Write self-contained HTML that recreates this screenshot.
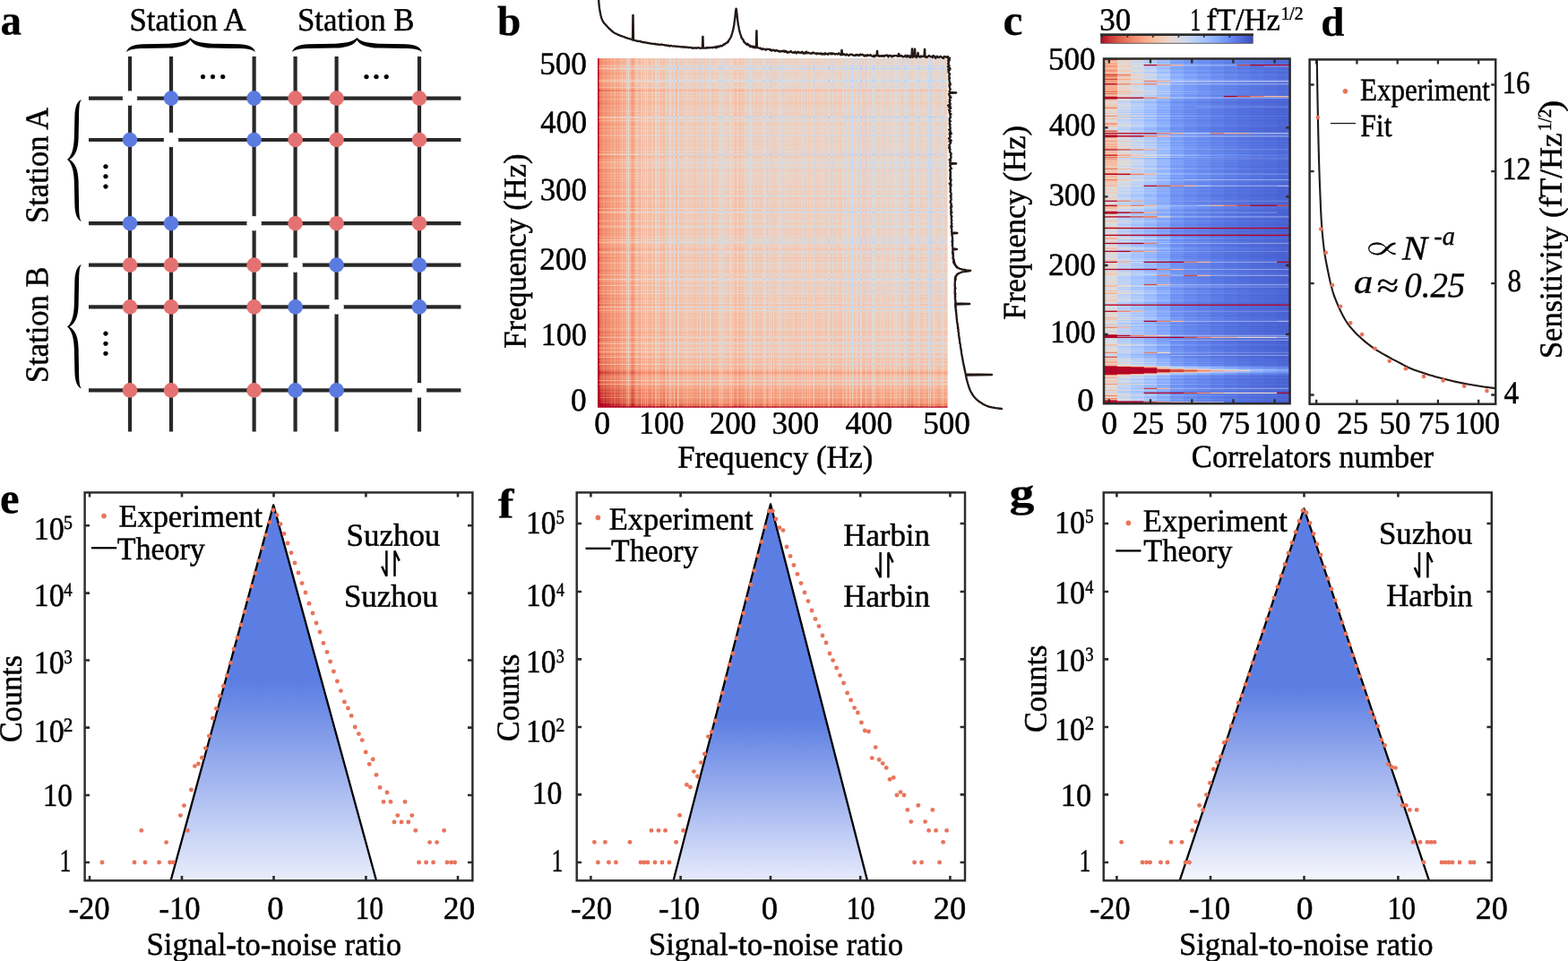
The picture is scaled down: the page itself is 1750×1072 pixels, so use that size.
<!DOCTYPE html>
<html lang="en"><head><meta charset="utf-8"><title>Figure</title>
<style>html,body{margin:0;padding:0;background:#fff}body{width:1750px;height:1072px;overflow:hidden}svg{display:block}text{font-family:"Liberation Serif", "DejaVu Serif", serif;fill:#000;white-space:pre;stroke:#000;stroke-width:.5px;stroke-linejoin:round}text[font-weight=bold]{stroke-width:.25px}text[font-style=italic]{stroke-width:.35px}</style></head><body>
<svg width="1750" height="1072" viewBox="0 0 1750 1072">
<defs>
<filter id="cmb" x="0" y="0" width="1" height="1" color-interpolation-filters="sRGB"><feColorMatrix type="matrix" values=".5 .5 0 0 0 .5 .5 0 0 0 .5 .5 0 0 0 0 0 0 1 0"/><feComponentTransfer><feFuncR type="table" tableValues="0.619 0.662 0.698 0.734 0.773 0.805 0.835 0.863 0.896 0.919 0.938 0.955 0.964 0.969 0.968 0.964 0.955 0.939 0.921 0.900 0.870 0.839 0.806 0.764 0.723 0.706 0.706 0.706 0.706 0.706 0.706 0.706 0.706 0.706 0.706 0.706 0.706 0.706 0.706 0.706 0.706 0.706 0.706 0.706 0.706 0.706 0.706 0.706 0.706 0.706 0.706 0.706 0.706 0.706 0.706 0.706 0.706 0.706 0.706 0.706 0.706 0.706 0.706 0.706"/><feFuncG type="table" tableValues="0.744 0.775 0.799 0.820 0.839 0.852 0.861 0.865 0.850 0.831 0.809 0.779 0.749 0.716 0.674 0.634 0.592 0.540 0.491 0.441 0.379 0.322 0.260 0.179 0.069 0.016 0.016 0.016 0.016 0.016 0.016 0.016 0.016 0.016 0.016 0.016 0.016 0.016 0.016 0.016 0.016 0.016 0.016 0.016 0.016 0.016 0.016 0.016 0.016 0.016 0.016 0.016 0.016 0.016 0.016 0.016 0.016 0.016 0.016 0.016 0.016 0.016 0.016 0.016"/><feFuncB type="table" tableValues="0.999 0.994 0.985 0.971 0.949 0.926 0.899 0.868 0.823 0.783 0.741 0.693 0.649 0.606 0.557 0.514 0.471 0.424 0.383 0.344 0.301 0.265 0.231 0.193 0.163 0.150 0.150 0.150 0.150 0.150 0.150 0.150 0.150 0.150 0.150 0.150 0.150 0.150 0.150 0.150 0.150 0.150 0.150 0.150 0.150 0.150 0.150 0.150 0.150 0.150 0.150 0.150 0.150 0.150 0.150 0.150 0.150 0.150 0.150 0.150 0.150 0.150 0.150 0.150"/></feComponentTransfer></filter>
<clipPath id="cpb"><rect x="667" y="65" width="390.6" height="389.7"/></clipPath>
<linearGradient id="cgx" x1="0" y1="0" x2="1" y2="0">
<stop offset="0.0000" stop-color="#d40000"/><stop offset="0.0714" stop-color="#d40000"/>
<stop offset="0.0714" stop-color="#bf0000"/><stop offset="0.1429" stop-color="#bf0000"/>
<stop offset="0.1429" stop-color="#b10000"/><stop offset="0.2143" stop-color="#b10000"/>
<stop offset="0.2143" stop-color="#a30000"/><stop offset="0.2857" stop-color="#a30000"/>
<stop offset="0.2857" stop-color="#900000"/><stop offset="0.3571" stop-color="#900000"/>
<stop offset="0.3571" stop-color="#740000"/><stop offset="0.4286" stop-color="#740000"/>
<stop offset="0.4286" stop-color="#660000"/><stop offset="0.5000" stop-color="#660000"/>
<stop offset="0.5000" stop-color="#5b0000"/><stop offset="0.5714" stop-color="#5b0000"/>
<stop offset="0.5714" stop-color="#4e0000"/><stop offset="0.6429" stop-color="#4e0000"/>
<stop offset="0.6429" stop-color="#420000"/><stop offset="0.7143" stop-color="#420000"/>
<stop offset="0.7143" stop-color="#370000"/><stop offset="0.7857" stop-color="#370000"/>
<stop offset="0.7857" stop-color="#2c0000"/><stop offset="0.8571" stop-color="#2c0000"/>
<stop offset="0.8571" stop-color="#220000"/><stop offset="0.9286" stop-color="#220000"/>
<stop offset="0.9286" stop-color="#170000"/><stop offset="1.0000" stop-color="#170000"/>
</linearGradient>
<linearGradient id="cgy" x1="0" y1="0" x2="0" y2="1">
<stop offset="0.0000" stop-color="#007c00"/><stop offset="0.0026" stop-color="#007c00"/>
<stop offset="0.0026" stop-color="#006200"/><stop offset="0.0052" stop-color="#006200"/>
<stop offset="0.0052" stop-color="#006000"/><stop offset="0.0078" stop-color="#006000"/>
<stop offset="0.0078" stop-color="#005200"/><stop offset="0.0104" stop-color="#005200"/>
<stop offset="0.0104" stop-color="#006300"/><stop offset="0.0130" stop-color="#006300"/>
<stop offset="0.0130" stop-color="#006100"/><stop offset="0.0156" stop-color="#006100"/>
<stop offset="0.0156" stop-color="#006000"/><stop offset="0.0182" stop-color="#006000"/>
<stop offset="0.0182" stop-color="#006600"/><stop offset="0.0208" stop-color="#006600"/>
<stop offset="0.0208" stop-color="#006700"/><stop offset="0.0234" stop-color="#006700"/>
<stop offset="0.0234" stop-color="#005c00"/><stop offset="0.0260" stop-color="#005c00"/>
<stop offset="0.0260" stop-color="#005d00"/><stop offset="0.0286" stop-color="#005d00"/>
<stop offset="0.0286" stop-color="#006000"/><stop offset="0.0312" stop-color="#006000"/>
<stop offset="0.0312" stop-color="#006900"/><stop offset="0.0338" stop-color="#006900"/>
<stop offset="0.0338" stop-color="#006800"/><stop offset="0.0364" stop-color="#006800"/>
<stop offset="0.0364" stop-color="#005b00"/><stop offset="0.0390" stop-color="#005b00"/>
<stop offset="0.0390" stop-color="#005c00"/><stop offset="0.0416" stop-color="#005c00"/>
<stop offset="0.0416" stop-color="#006a00"/><stop offset="0.0442" stop-color="#006a00"/>
<stop offset="0.0442" stop-color="#007700"/><stop offset="0.0468" stop-color="#007700"/>
<stop offset="0.0468" stop-color="#006300"/><stop offset="0.0494" stop-color="#006300"/>
<stop offset="0.0494" stop-color="#005e00"/><stop offset="0.0519" stop-color="#005e00"/>
<stop offset="0.0519" stop-color="#006f00"/><stop offset="0.0545" stop-color="#006f00"/>
<stop offset="0.0545" stop-color="#006100"/><stop offset="0.0571" stop-color="#006100"/>
<stop offset="0.0571" stop-color="#006900"/><stop offset="0.0597" stop-color="#006900"/>
<stop offset="0.0597" stop-color="#007700"/><stop offset="0.0623" stop-color="#007700"/>
<stop offset="0.0623" stop-color="#006800"/><stop offset="0.0649" stop-color="#006800"/>
<stop offset="0.0649" stop-color="#006300"/><stop offset="0.0675" stop-color="#006300"/>
<stop offset="0.0675" stop-color="#006900"/><stop offset="0.0701" stop-color="#006900"/>
<stop offset="0.0701" stop-color="#005e00"/><stop offset="0.0727" stop-color="#005e00"/>
<stop offset="0.0727" stop-color="#006100"/><stop offset="0.0753" stop-color="#006100"/>
<stop offset="0.0753" stop-color="#005f00"/><stop offset="0.0779" stop-color="#005f00"/>
<stop offset="0.0779" stop-color="#006100"/><stop offset="0.0805" stop-color="#006100"/>
<stop offset="0.0805" stop-color="#005f00"/><stop offset="0.0831" stop-color="#005f00"/>
<stop offset="0.0831" stop-color="#006100"/><stop offset="0.0857" stop-color="#006100"/>
<stop offset="0.0857" stop-color="#006000"/><stop offset="0.0883" stop-color="#006000"/>
<stop offset="0.0883" stop-color="#006300"/><stop offset="0.0909" stop-color="#006300"/>
<stop offset="0.0909" stop-color="#006200"/><stop offset="0.0935" stop-color="#006200"/>
<stop offset="0.0935" stop-color="#006400"/><stop offset="0.0961" stop-color="#006400"/>
<stop offset="0.0961" stop-color="#007300"/><stop offset="0.0987" stop-color="#007300"/>
<stop offset="0.0987" stop-color="#005800"/><stop offset="0.1013" stop-color="#005800"/>
<stop offset="0.1013" stop-color="#007100"/><stop offset="0.1039" stop-color="#007100"/>
<stop offset="0.1039" stop-color="#006000"/><stop offset="0.1065" stop-color="#006000"/>
<stop offset="0.1065" stop-color="#005a00"/><stop offset="0.1091" stop-color="#005a00"/>
<stop offset="0.1091" stop-color="#006100"/><stop offset="0.1117" stop-color="#006100"/>
<stop offset="0.1117" stop-color="#005f00"/><stop offset="0.1143" stop-color="#005f00"/>
<stop offset="0.1143" stop-color="#006700"/><stop offset="0.1169" stop-color="#006700"/>
<stop offset="0.1169" stop-color="#005200"/><stop offset="0.1195" stop-color="#005200"/>
<stop offset="0.1195" stop-color="#005700"/><stop offset="0.1221" stop-color="#005700"/>
<stop offset="0.1221" stop-color="#005400"/><stop offset="0.1247" stop-color="#005400"/>
<stop offset="0.1247" stop-color="#004500"/><stop offset="0.1299" stop-color="#004500"/>
<stop offset="0.1299" stop-color="#004f00"/><stop offset="0.1325" stop-color="#004f00"/>
<stop offset="0.1325" stop-color="#005000"/><stop offset="0.1351" stop-color="#005000"/>
<stop offset="0.1351" stop-color="#005600"/><stop offset="0.1377" stop-color="#005600"/>
<stop offset="0.1377" stop-color="#004f00"/><stop offset="0.1403" stop-color="#004f00"/>
<stop offset="0.1403" stop-color="#004d00"/><stop offset="0.1429" stop-color="#004d00"/>
<stop offset="0.1429" stop-color="#004b00"/><stop offset="0.1455" stop-color="#004b00"/>
<stop offset="0.1455" stop-color="#005800"/><stop offset="0.1481" stop-color="#005800"/>
<stop offset="0.1481" stop-color="#004500"/><stop offset="0.1506" stop-color="#004500"/>
<stop offset="0.1506" stop-color="#004900"/><stop offset="0.1532" stop-color="#004900"/>
<stop offset="0.1532" stop-color="#004d00"/><stop offset="0.1558" stop-color="#004d00"/>
<stop offset="0.1558" stop-color="#004000"/><stop offset="0.1584" stop-color="#004000"/>
<stop offset="0.1584" stop-color="#005a00"/><stop offset="0.1610" stop-color="#005a00"/>
<stop offset="0.1610" stop-color="#004500"/><stop offset="0.1636" stop-color="#004500"/>
<stop offset="0.1636" stop-color="#004900"/><stop offset="0.1662" stop-color="#004900"/>
<stop offset="0.1662" stop-color="#006b00"/><stop offset="0.1688" stop-color="#006b00"/>
<stop offset="0.1688" stop-color="#004500"/><stop offset="0.1714" stop-color="#004500"/>
<stop offset="0.1714" stop-color="#004700"/><stop offset="0.1740" stop-color="#004700"/>
<stop offset="0.1740" stop-color="#005e00"/><stop offset="0.1766" stop-color="#005e00"/>
<stop offset="0.1766" stop-color="#004300"/><stop offset="0.1792" stop-color="#004300"/>
<stop offset="0.1792" stop-color="#004700"/><stop offset="0.1818" stop-color="#004700"/>
<stop offset="0.1818" stop-color="#004e00"/><stop offset="0.1870" stop-color="#004e00"/>
<stop offset="0.1870" stop-color="#004f00"/><stop offset="0.1896" stop-color="#004f00"/>
<stop offset="0.1896" stop-color="#004d00"/><stop offset="0.1922" stop-color="#004d00"/>
<stop offset="0.1922" stop-color="#005a00"/><stop offset="0.1948" stop-color="#005a00"/>
<stop offset="0.1948" stop-color="#005500"/><stop offset="0.1974" stop-color="#005500"/>
<stop offset="0.1974" stop-color="#004f00"/><stop offset="0.2000" stop-color="#004f00"/>
<stop offset="0.2000" stop-color="#004600"/><stop offset="0.2026" stop-color="#004600"/>
<stop offset="0.2026" stop-color="#004500"/><stop offset="0.2052" stop-color="#004500"/>
<stop offset="0.2052" stop-color="#003e00"/><stop offset="0.2078" stop-color="#003e00"/>
<stop offset="0.2078" stop-color="#005300"/><stop offset="0.2104" stop-color="#005300"/>
<stop offset="0.2104" stop-color="#004300"/><stop offset="0.2130" stop-color="#004300"/>
<stop offset="0.2130" stop-color="#005900"/><stop offset="0.2156" stop-color="#005900"/>
<stop offset="0.2156" stop-color="#006d00"/><stop offset="0.2182" stop-color="#006d00"/>
<stop offset="0.2182" stop-color="#004e00"/><stop offset="0.2208" stop-color="#004e00"/>
<stop offset="0.2208" stop-color="#005300"/><stop offset="0.2234" stop-color="#005300"/>
<stop offset="0.2234" stop-color="#005600"/><stop offset="0.2260" stop-color="#005600"/>
<stop offset="0.2260" stop-color="#006100"/><stop offset="0.2286" stop-color="#006100"/>
<stop offset="0.2286" stop-color="#005400"/><stop offset="0.2312" stop-color="#005400"/>
<stop offset="0.2312" stop-color="#005800"/><stop offset="0.2338" stop-color="#005800"/>
<stop offset="0.2338" stop-color="#005600"/><stop offset="0.2364" stop-color="#005600"/>
<stop offset="0.2364" stop-color="#005700"/><stop offset="0.2390" stop-color="#005700"/>
<stop offset="0.2390" stop-color="#006800"/><stop offset="0.2416" stop-color="#006800"/>
<stop offset="0.2416" stop-color="#005300"/><stop offset="0.2442" stop-color="#005300"/>
<stop offset="0.2442" stop-color="#005900"/><stop offset="0.2468" stop-color="#005900"/>
<stop offset="0.2468" stop-color="#005b00"/><stop offset="0.2494" stop-color="#005b00"/>
<stop offset="0.2494" stop-color="#006100"/><stop offset="0.2519" stop-color="#006100"/>
<stop offset="0.2519" stop-color="#005100"/><stop offset="0.2545" stop-color="#005100"/>
<stop offset="0.2545" stop-color="#006500"/><stop offset="0.2571" stop-color="#006500"/>
<stop offset="0.2571" stop-color="#005c00"/><stop offset="0.2597" stop-color="#005c00"/>
<stop offset="0.2597" stop-color="#006100"/><stop offset="0.2623" stop-color="#006100"/>
<stop offset="0.2623" stop-color="#005900"/><stop offset="0.2649" stop-color="#005900"/>
<stop offset="0.2649" stop-color="#004e00"/><stop offset="0.2675" stop-color="#004e00"/>
<stop offset="0.2675" stop-color="#005400"/><stop offset="0.2701" stop-color="#005400"/>
<stop offset="0.2701" stop-color="#006000"/><stop offset="0.2727" stop-color="#006000"/>
<stop offset="0.2727" stop-color="#005900"/><stop offset="0.2753" stop-color="#005900"/>
<stop offset="0.2753" stop-color="#005800"/><stop offset="0.2779" stop-color="#005800"/>
<stop offset="0.2779" stop-color="#007100"/><stop offset="0.2805" stop-color="#007100"/>
<stop offset="0.2805" stop-color="#007b00"/><stop offset="0.2831" stop-color="#007b00"/>
<stop offset="0.2831" stop-color="#005800"/><stop offset="0.2857" stop-color="#005800"/>
<stop offset="0.2857" stop-color="#007400"/><stop offset="0.2883" stop-color="#007400"/>
<stop offset="0.2883" stop-color="#004b00"/><stop offset="0.2935" stop-color="#004b00"/>
<stop offset="0.2935" stop-color="#006100"/><stop offset="0.2961" stop-color="#006100"/>
<stop offset="0.2961" stop-color="#005600"/><stop offset="0.2987" stop-color="#005600"/>
<stop offset="0.2987" stop-color="#005d00"/><stop offset="0.3013" stop-color="#005d00"/>
<stop offset="0.3013" stop-color="#005c00"/><stop offset="0.3039" stop-color="#005c00"/>
<stop offset="0.3039" stop-color="#005700"/><stop offset="0.3065" stop-color="#005700"/>
<stop offset="0.3065" stop-color="#005e00"/><stop offset="0.3091" stop-color="#005e00"/>
<stop offset="0.3091" stop-color="#005900"/><stop offset="0.3117" stop-color="#005900"/>
<stop offset="0.3117" stop-color="#004e00"/><stop offset="0.3143" stop-color="#004e00"/>
<stop offset="0.3143" stop-color="#005900"/><stop offset="0.3195" stop-color="#005900"/>
<stop offset="0.3195" stop-color="#007100"/><stop offset="0.3221" stop-color="#007100"/>
<stop offset="0.3221" stop-color="#005000"/><stop offset="0.3247" stop-color="#005000"/>
<stop offset="0.3247" stop-color="#005700"/><stop offset="0.3273" stop-color="#005700"/>
<stop offset="0.3273" stop-color="#005500"/><stop offset="0.3299" stop-color="#005500"/>
<stop offset="0.3299" stop-color="#005600"/><stop offset="0.3325" stop-color="#005600"/>
<stop offset="0.3325" stop-color="#006e00"/><stop offset="0.3351" stop-color="#006e00"/>
<stop offset="0.3351" stop-color="#005a00"/><stop offset="0.3377" stop-color="#005a00"/>
<stop offset="0.3377" stop-color="#005400"/><stop offset="0.3403" stop-color="#005400"/>
<stop offset="0.3403" stop-color="#005800"/><stop offset="0.3429" stop-color="#005800"/>
<stop offset="0.3429" stop-color="#005e00"/><stop offset="0.3455" stop-color="#005e00"/>
<stop offset="0.3455" stop-color="#005100"/><stop offset="0.3481" stop-color="#005100"/>
<stop offset="0.3481" stop-color="#005500"/><stop offset="0.3506" stop-color="#005500"/>
<stop offset="0.3506" stop-color="#006b00"/><stop offset="0.3532" stop-color="#006b00"/>
<stop offset="0.3532" stop-color="#005f00"/><stop offset="0.3558" stop-color="#005f00"/>
<stop offset="0.3558" stop-color="#005700"/><stop offset="0.3584" stop-color="#005700"/>
<stop offset="0.3584" stop-color="#005400"/><stop offset="0.3610" stop-color="#005400"/>
<stop offset="0.3610" stop-color="#005600"/><stop offset="0.3636" stop-color="#005600"/>
<stop offset="0.3636" stop-color="#004b00"/><stop offset="0.3662" stop-color="#004b00"/>
<stop offset="0.3662" stop-color="#005e00"/><stop offset="0.3688" stop-color="#005e00"/>
<stop offset="0.3688" stop-color="#005500"/><stop offset="0.3714" stop-color="#005500"/>
<stop offset="0.3714" stop-color="#005200"/><stop offset="0.3740" stop-color="#005200"/>
<stop offset="0.3740" stop-color="#004800"/><stop offset="0.3766" stop-color="#004800"/>
<stop offset="0.3766" stop-color="#004a00"/><stop offset="0.3792" stop-color="#004a00"/>
<stop offset="0.3792" stop-color="#005200"/><stop offset="0.3818" stop-color="#005200"/>
<stop offset="0.3818" stop-color="#004e00"/><stop offset="0.3844" stop-color="#004e00"/>
<stop offset="0.3844" stop-color="#004700"/><stop offset="0.3870" stop-color="#004700"/>
<stop offset="0.3870" stop-color="#004d00"/><stop offset="0.3896" stop-color="#004d00"/>
<stop offset="0.3896" stop-color="#005300"/><stop offset="0.3922" stop-color="#005300"/>
<stop offset="0.3922" stop-color="#004500"/><stop offset="0.3948" stop-color="#004500"/>
<stop offset="0.3948" stop-color="#004600"/><stop offset="0.3974" stop-color="#004600"/>
<stop offset="0.3974" stop-color="#004300"/><stop offset="0.4000" stop-color="#004300"/>
<stop offset="0.4000" stop-color="#004200"/><stop offset="0.4026" stop-color="#004200"/>
<stop offset="0.4026" stop-color="#005100"/><stop offset="0.4052" stop-color="#005100"/>
<stop offset="0.4052" stop-color="#004d00"/><stop offset="0.4078" stop-color="#004d00"/>
<stop offset="0.4078" stop-color="#004c00"/><stop offset="0.4104" stop-color="#004c00"/>
<stop offset="0.4104" stop-color="#004100"/><stop offset="0.4130" stop-color="#004100"/>
<stop offset="0.4130" stop-color="#004200"/><stop offset="0.4156" stop-color="#004200"/>
<stop offset="0.4156" stop-color="#004800"/><stop offset="0.4182" stop-color="#004800"/>
<stop offset="0.4182" stop-color="#004600"/><stop offset="0.4208" stop-color="#004600"/>
<stop offset="0.4208" stop-color="#004a00"/><stop offset="0.4234" stop-color="#004a00"/>
<stop offset="0.4234" stop-color="#004400"/><stop offset="0.4260" stop-color="#004400"/>
<stop offset="0.4260" stop-color="#004f00"/><stop offset="0.4286" stop-color="#004f00"/>
<stop offset="0.4286" stop-color="#006200"/><stop offset="0.4312" stop-color="#006200"/>
<stop offset="0.4312" stop-color="#005d00"/><stop offset="0.4338" stop-color="#005d00"/>
<stop offset="0.4338" stop-color="#005e00"/><stop offset="0.4364" stop-color="#005e00"/>
<stop offset="0.4364" stop-color="#004900"/><stop offset="0.4390" stop-color="#004900"/>
<stop offset="0.4390" stop-color="#005200"/><stop offset="0.4416" stop-color="#005200"/>
<stop offset="0.4416" stop-color="#004600"/><stop offset="0.4442" stop-color="#004600"/>
<stop offset="0.4442" stop-color="#005200"/><stop offset="0.4468" stop-color="#005200"/>
<stop offset="0.4468" stop-color="#004600"/><stop offset="0.4494" stop-color="#004600"/>
<stop offset="0.4494" stop-color="#004500"/><stop offset="0.4519" stop-color="#004500"/>
<stop offset="0.4519" stop-color="#004400"/><stop offset="0.4545" stop-color="#004400"/>
<stop offset="0.4545" stop-color="#004f00"/><stop offset="0.4571" stop-color="#004f00"/>
<stop offset="0.4571" stop-color="#004a00"/><stop offset="0.4623" stop-color="#004a00"/>
<stop offset="0.4623" stop-color="#004100"/><stop offset="0.4649" stop-color="#004100"/>
<stop offset="0.4649" stop-color="#004900"/><stop offset="0.4675" stop-color="#004900"/>
<stop offset="0.4675" stop-color="#003f00"/><stop offset="0.4701" stop-color="#003f00"/>
<stop offset="0.4701" stop-color="#005b00"/><stop offset="0.4727" stop-color="#005b00"/>
<stop offset="0.4727" stop-color="#004700"/><stop offset="0.4753" stop-color="#004700"/>
<stop offset="0.4753" stop-color="#004900"/><stop offset="0.4779" stop-color="#004900"/>
<stop offset="0.4779" stop-color="#004700"/><stop offset="0.4805" stop-color="#004700"/>
<stop offset="0.4805" stop-color="#003e00"/><stop offset="0.4831" stop-color="#003e00"/>
<stop offset="0.4831" stop-color="#003f00"/><stop offset="0.4857" stop-color="#003f00"/>
<stop offset="0.4857" stop-color="#004800"/><stop offset="0.4883" stop-color="#004800"/>
<stop offset="0.4883" stop-color="#005b00"/><stop offset="0.4909" stop-color="#005b00"/>
<stop offset="0.4909" stop-color="#004100"/><stop offset="0.4935" stop-color="#004100"/>
<stop offset="0.4935" stop-color="#004300"/><stop offset="0.4961" stop-color="#004300"/>
<stop offset="0.4961" stop-color="#004800"/><stop offset="0.4987" stop-color="#004800"/>
<stop offset="0.4987" stop-color="#003d00"/><stop offset="0.5039" stop-color="#003d00"/>
<stop offset="0.5039" stop-color="#004500"/><stop offset="0.5065" stop-color="#004500"/>
<stop offset="0.5065" stop-color="#004700"/><stop offset="0.5091" stop-color="#004700"/>
<stop offset="0.5091" stop-color="#004500"/><stop offset="0.5117" stop-color="#004500"/>
<stop offset="0.5117" stop-color="#005b00"/><stop offset="0.5143" stop-color="#005b00"/>
<stop offset="0.5143" stop-color="#004700"/><stop offset="0.5169" stop-color="#004700"/>
<stop offset="0.5169" stop-color="#004a00"/><stop offset="0.5195" stop-color="#004a00"/>
<stop offset="0.5195" stop-color="#005d00"/><stop offset="0.5221" stop-color="#005d00"/>
<stop offset="0.5221" stop-color="#005f00"/><stop offset="0.5247" stop-color="#005f00"/>
<stop offset="0.5247" stop-color="#003d00"/><stop offset="0.5273" stop-color="#003d00"/>
<stop offset="0.5273" stop-color="#004500"/><stop offset="0.5299" stop-color="#004500"/>
<stop offset="0.5299" stop-color="#005500"/><stop offset="0.5325" stop-color="#005500"/>
<stop offset="0.5325" stop-color="#003f00"/><stop offset="0.5351" stop-color="#003f00"/>
<stop offset="0.5351" stop-color="#004100"/><stop offset="0.5377" stop-color="#004100"/>
<stop offset="0.5377" stop-color="#003f00"/><stop offset="0.5429" stop-color="#003f00"/>
<stop offset="0.5429" stop-color="#004000"/><stop offset="0.5455" stop-color="#004000"/>
<stop offset="0.5455" stop-color="#004900"/><stop offset="0.5481" stop-color="#004900"/>
<stop offset="0.5481" stop-color="#005600"/><stop offset="0.5506" stop-color="#005600"/>
<stop offset="0.5506" stop-color="#005b00"/><stop offset="0.5532" stop-color="#005b00"/>
<stop offset="0.5532" stop-color="#004700"/><stop offset="0.5558" stop-color="#004700"/>
<stop offset="0.5558" stop-color="#003b00"/><stop offset="0.5584" stop-color="#003b00"/>
<stop offset="0.5584" stop-color="#004700"/><stop offset="0.5610" stop-color="#004700"/>
<stop offset="0.5610" stop-color="#004500"/><stop offset="0.5636" stop-color="#004500"/>
<stop offset="0.5636" stop-color="#004a00"/><stop offset="0.5662" stop-color="#004a00"/>
<stop offset="0.5662" stop-color="#004600"/><stop offset="0.5688" stop-color="#004600"/>
<stop offset="0.5688" stop-color="#003c00"/><stop offset="0.5714" stop-color="#003c00"/>
<stop offset="0.5714" stop-color="#004a00"/><stop offset="0.5740" stop-color="#004a00"/>
<stop offset="0.5740" stop-color="#003a00"/><stop offset="0.5766" stop-color="#003a00"/>
<stop offset="0.5766" stop-color="#004300"/><stop offset="0.5792" stop-color="#004300"/>
<stop offset="0.5792" stop-color="#004900"/><stop offset="0.5818" stop-color="#004900"/>
<stop offset="0.5818" stop-color="#004a00"/><stop offset="0.5844" stop-color="#004a00"/>
<stop offset="0.5844" stop-color="#005b00"/><stop offset="0.5870" stop-color="#005b00"/>
<stop offset="0.5870" stop-color="#003800"/><stop offset="0.5896" stop-color="#003800"/>
<stop offset="0.5896" stop-color="#004900"/><stop offset="0.5922" stop-color="#004900"/>
<stop offset="0.5922" stop-color="#004d00"/><stop offset="0.5948" stop-color="#004d00"/>
<stop offset="0.5948" stop-color="#004500"/><stop offset="0.5974" stop-color="#004500"/>
<stop offset="0.5974" stop-color="#004c00"/><stop offset="0.6000" stop-color="#004c00"/>
<stop offset="0.6000" stop-color="#004000"/><stop offset="0.6026" stop-color="#004000"/>
<stop offset="0.6026" stop-color="#004d00"/><stop offset="0.6052" stop-color="#004d00"/>
<stop offset="0.6052" stop-color="#004b00"/><stop offset="0.6078" stop-color="#004b00"/>
<stop offset="0.6078" stop-color="#004000"/><stop offset="0.6104" stop-color="#004000"/>
<stop offset="0.6104" stop-color="#004200"/><stop offset="0.6130" stop-color="#004200"/>
<stop offset="0.6130" stop-color="#004500"/><stop offset="0.6156" stop-color="#004500"/>
<stop offset="0.6156" stop-color="#004200"/><stop offset="0.6182" stop-color="#004200"/>
<stop offset="0.6182" stop-color="#005200"/><stop offset="0.6208" stop-color="#005200"/>
<stop offset="0.6208" stop-color="#004800"/><stop offset="0.6234" stop-color="#004800"/>
<stop offset="0.6234" stop-color="#005600"/><stop offset="0.6260" stop-color="#005600"/>
<stop offset="0.6260" stop-color="#005400"/><stop offset="0.6286" stop-color="#005400"/>
<stop offset="0.6286" stop-color="#004700"/><stop offset="0.6312" stop-color="#004700"/>
<stop offset="0.6312" stop-color="#004500"/><stop offset="0.6338" stop-color="#004500"/>
<stop offset="0.6338" stop-color="#004000"/><stop offset="0.6364" stop-color="#004000"/>
<stop offset="0.6364" stop-color="#004100"/><stop offset="0.6416" stop-color="#004100"/>
<stop offset="0.6416" stop-color="#004900"/><stop offset="0.6442" stop-color="#004900"/>
<stop offset="0.6442" stop-color="#004100"/><stop offset="0.6468" stop-color="#004100"/>
<stop offset="0.6468" stop-color="#004700"/><stop offset="0.6494" stop-color="#004700"/>
<stop offset="0.6494" stop-color="#004800"/><stop offset="0.6519" stop-color="#004800"/>
<stop offset="0.6519" stop-color="#004300"/><stop offset="0.6545" stop-color="#004300"/>
<stop offset="0.6545" stop-color="#004500"/><stop offset="0.6571" stop-color="#004500"/>
<stop offset="0.6571" stop-color="#005800"/><stop offset="0.6597" stop-color="#005800"/>
<stop offset="0.6597" stop-color="#005c00"/><stop offset="0.6623" stop-color="#005c00"/>
<stop offset="0.6623" stop-color="#004100"/><stop offset="0.6649" stop-color="#004100"/>
<stop offset="0.6649" stop-color="#004500"/><stop offset="0.6675" stop-color="#004500"/>
<stop offset="0.6675" stop-color="#004400"/><stop offset="0.6727" stop-color="#004400"/>
<stop offset="0.6727" stop-color="#005a00"/><stop offset="0.6753" stop-color="#005a00"/>
<stop offset="0.6753" stop-color="#004c00"/><stop offset="0.6779" stop-color="#004c00"/>
<stop offset="0.6779" stop-color="#005500"/><stop offset="0.6805" stop-color="#005500"/>
<stop offset="0.6805" stop-color="#005f00"/><stop offset="0.6831" stop-color="#005f00"/>
<stop offset="0.6831" stop-color="#004300"/><stop offset="0.6857" stop-color="#004300"/>
<stop offset="0.6857" stop-color="#004500"/><stop offset="0.6883" stop-color="#004500"/>
<stop offset="0.6883" stop-color="#004600"/><stop offset="0.6909" stop-color="#004600"/>
<stop offset="0.6909" stop-color="#005100"/><stop offset="0.6935" stop-color="#005100"/>
<stop offset="0.6935" stop-color="#004500"/><stop offset="0.6961" stop-color="#004500"/>
<stop offset="0.6961" stop-color="#004c00"/><stop offset="0.6987" stop-color="#004c00"/>
<stop offset="0.6987" stop-color="#005300"/><stop offset="0.7039" stop-color="#005300"/>
<stop offset="0.7039" stop-color="#004a00"/><stop offset="0.7065" stop-color="#004a00"/>
<stop offset="0.7065" stop-color="#004100"/><stop offset="0.7091" stop-color="#004100"/>
<stop offset="0.7091" stop-color="#003c00"/><stop offset="0.7117" stop-color="#003c00"/>
<stop offset="0.7117" stop-color="#005200"/><stop offset="0.7143" stop-color="#005200"/>
<stop offset="0.7143" stop-color="#004a00"/><stop offset="0.7169" stop-color="#004a00"/>
<stop offset="0.7169" stop-color="#004000"/><stop offset="0.7195" stop-color="#004000"/>
<stop offset="0.7195" stop-color="#004300"/><stop offset="0.7247" stop-color="#004300"/>
<stop offset="0.7247" stop-color="#003b00"/><stop offset="0.7273" stop-color="#003b00"/>
<stop offset="0.7273" stop-color="#004800"/><stop offset="0.7299" stop-color="#004800"/>
<stop offset="0.7299" stop-color="#004100"/><stop offset="0.7325" stop-color="#004100"/>
<stop offset="0.7325" stop-color="#004400"/><stop offset="0.7351" stop-color="#004400"/>
<stop offset="0.7351" stop-color="#004d00"/><stop offset="0.7377" stop-color="#004d00"/>
<stop offset="0.7377" stop-color="#004500"/><stop offset="0.7403" stop-color="#004500"/>
<stop offset="0.7403" stop-color="#004a00"/><stop offset="0.7429" stop-color="#004a00"/>
<stop offset="0.7429" stop-color="#004900"/><stop offset="0.7455" stop-color="#004900"/>
<stop offset="0.7455" stop-color="#004600"/><stop offset="0.7506" stop-color="#004600"/>
<stop offset="0.7506" stop-color="#006000"/><stop offset="0.7532" stop-color="#006000"/>
<stop offset="0.7532" stop-color="#004500"/><stop offset="0.7558" stop-color="#004500"/>
<stop offset="0.7558" stop-color="#005b00"/><stop offset="0.7584" stop-color="#005b00"/>
<stop offset="0.7584" stop-color="#004000"/><stop offset="0.7610" stop-color="#004000"/>
<stop offset="0.7610" stop-color="#004c00"/><stop offset="0.7636" stop-color="#004c00"/>
<stop offset="0.7636" stop-color="#004700"/><stop offset="0.7662" stop-color="#004700"/>
<stop offset="0.7662" stop-color="#004100"/><stop offset="0.7688" stop-color="#004100"/>
<stop offset="0.7688" stop-color="#003500"/><stop offset="0.7714" stop-color="#003500"/>
<stop offset="0.7714" stop-color="#005a00"/><stop offset="0.7740" stop-color="#005a00"/>
<stop offset="0.7740" stop-color="#003e00"/><stop offset="0.7766" stop-color="#003e00"/>
<stop offset="0.7766" stop-color="#003f00"/><stop offset="0.7792" stop-color="#003f00"/>
<stop offset="0.7792" stop-color="#004600"/><stop offset="0.7844" stop-color="#004600"/>
<stop offset="0.7844" stop-color="#004800"/><stop offset="0.7870" stop-color="#004800"/>
<stop offset="0.7870" stop-color="#004400"/><stop offset="0.7896" stop-color="#004400"/>
<stop offset="0.7896" stop-color="#003c00"/><stop offset="0.7922" stop-color="#003c00"/>
<stop offset="0.7922" stop-color="#004e00"/><stop offset="0.7948" stop-color="#004e00"/>
<stop offset="0.7948" stop-color="#004000"/><stop offset="0.7974" stop-color="#004000"/>
<stop offset="0.7974" stop-color="#004700"/><stop offset="0.8000" stop-color="#004700"/>
<stop offset="0.8000" stop-color="#004a00"/><stop offset="0.8026" stop-color="#004a00"/>
<stop offset="0.8026" stop-color="#005300"/><stop offset="0.8052" stop-color="#005300"/>
<stop offset="0.8052" stop-color="#004400"/><stop offset="0.8078" stop-color="#004400"/>
<stop offset="0.8078" stop-color="#004300"/><stop offset="0.8104" stop-color="#004300"/>
<stop offset="0.8104" stop-color="#004400"/><stop offset="0.8130" stop-color="#004400"/>
<stop offset="0.8130" stop-color="#003900"/><stop offset="0.8156" stop-color="#003900"/>
<stop offset="0.8156" stop-color="#004000"/><stop offset="0.8182" stop-color="#004000"/>
<stop offset="0.8182" stop-color="#003f00"/><stop offset="0.8208" stop-color="#003f00"/>
<stop offset="0.8208" stop-color="#003e00"/><stop offset="0.8234" stop-color="#003e00"/>
<stop offset="0.8234" stop-color="#004600"/><stop offset="0.8260" stop-color="#004600"/>
<stop offset="0.8260" stop-color="#004300"/><stop offset="0.8286" stop-color="#004300"/>
<stop offset="0.8286" stop-color="#005a00"/><stop offset="0.8312" stop-color="#005a00"/>
<stop offset="0.8312" stop-color="#005800"/><stop offset="0.8338" stop-color="#005800"/>
<stop offset="0.8338" stop-color="#003900"/><stop offset="0.8364" stop-color="#003900"/>
<stop offset="0.8364" stop-color="#004600"/><stop offset="0.8390" stop-color="#004600"/>
<stop offset="0.8390" stop-color="#003f00"/><stop offset="0.8416" stop-color="#003f00"/>
<stop offset="0.8416" stop-color="#004a00"/><stop offset="0.8442" stop-color="#004a00"/>
<stop offset="0.8442" stop-color="#004600"/><stop offset="0.8468" stop-color="#004600"/>
<stop offset="0.8468" stop-color="#004f00"/><stop offset="0.8494" stop-color="#004f00"/>
<stop offset="0.8494" stop-color="#004700"/><stop offset="0.8519" stop-color="#004700"/>
<stop offset="0.8519" stop-color="#004c00"/><stop offset="0.8545" stop-color="#004c00"/>
<stop offset="0.8545" stop-color="#004300"/><stop offset="0.8571" stop-color="#004300"/>
<stop offset="0.8571" stop-color="#003500"/><stop offset="0.8597" stop-color="#003500"/>
<stop offset="0.8597" stop-color="#003e00"/><stop offset="0.8623" stop-color="#003e00"/>
<stop offset="0.8623" stop-color="#004000"/><stop offset="0.8649" stop-color="#004000"/>
<stop offset="0.8649" stop-color="#004300"/><stop offset="0.8675" stop-color="#004300"/>
<stop offset="0.8675" stop-color="#004000"/><stop offset="0.8701" stop-color="#004000"/>
<stop offset="0.8701" stop-color="#005d00"/><stop offset="0.8727" stop-color="#005d00"/>
<stop offset="0.8727" stop-color="#004800"/><stop offset="0.8753" stop-color="#004800"/>
<stop offset="0.8753" stop-color="#005a00"/><stop offset="0.8779" stop-color="#005a00"/>
<stop offset="0.8779" stop-color="#004a00"/><stop offset="0.8805" stop-color="#004a00"/>
<stop offset="0.8805" stop-color="#006500"/><stop offset="0.8831" stop-color="#006500"/>
<stop offset="0.8831" stop-color="#004b00"/><stop offset="0.8857" stop-color="#004b00"/>
<stop offset="0.8857" stop-color="#005d00"/><stop offset="0.8883" stop-color="#005d00"/>
<stop offset="0.8883" stop-color="#005800"/><stop offset="0.8909" stop-color="#005800"/>
<stop offset="0.8909" stop-color="#007100"/><stop offset="0.8935" stop-color="#007100"/>
<stop offset="0.8935" stop-color="#009600"/><stop offset="0.8961" stop-color="#009600"/>
<stop offset="0.8961" stop-color="#008e00"/><stop offset="0.8987" stop-color="#008e00"/>
<stop offset="0.8987" stop-color="#00aa00"/><stop offset="0.9013" stop-color="#00aa00"/>
<stop offset="0.9013" stop-color="#00c100"/><stop offset="0.9039" stop-color="#00c100"/>
<stop offset="0.9039" stop-color="#00bf00"/><stop offset="0.9065" stop-color="#00bf00"/>
<stop offset="0.9065" stop-color="#00ab00"/><stop offset="0.9117" stop-color="#00ab00"/>
<stop offset="0.9117" stop-color="#008600"/><stop offset="0.9143" stop-color="#008600"/>
<stop offset="0.9143" stop-color="#008100"/><stop offset="0.9169" stop-color="#008100"/>
<stop offset="0.9169" stop-color="#006600"/><stop offset="0.9195" stop-color="#006600"/>
<stop offset="0.9195" stop-color="#005400"/><stop offset="0.9221" stop-color="#005400"/>
<stop offset="0.9221" stop-color="#005200"/><stop offset="0.9247" stop-color="#005200"/>
<stop offset="0.9247" stop-color="#006300"/><stop offset="0.9273" stop-color="#006300"/>
<stop offset="0.9273" stop-color="#004600"/><stop offset="0.9299" stop-color="#004600"/>
<stop offset="0.9299" stop-color="#004a00"/><stop offset="0.9325" stop-color="#004a00"/>
<stop offset="0.9325" stop-color="#005100"/><stop offset="0.9351" stop-color="#005100"/>
<stop offset="0.9351" stop-color="#005500"/><stop offset="0.9377" stop-color="#005500"/>
<stop offset="0.9377" stop-color="#005200"/><stop offset="0.9403" stop-color="#005200"/>
<stop offset="0.9403" stop-color="#004000"/><stop offset="0.9429" stop-color="#004000"/>
<stop offset="0.9429" stop-color="#006900"/><stop offset="0.9455" stop-color="#006900"/>
<stop offset="0.9455" stop-color="#004800"/><stop offset="0.9481" stop-color="#004800"/>
<stop offset="0.9481" stop-color="#004900"/><stop offset="0.9532" stop-color="#004900"/>
<stop offset="0.9532" stop-color="#004700"/><stop offset="0.9558" stop-color="#004700"/>
<stop offset="0.9558" stop-color="#004300"/><stop offset="0.9584" stop-color="#004300"/>
<stop offset="0.9584" stop-color="#004700"/><stop offset="0.9610" stop-color="#004700"/>
<stop offset="0.9610" stop-color="#005900"/><stop offset="0.9636" stop-color="#005900"/>
<stop offset="0.9636" stop-color="#004100"/><stop offset="0.9662" stop-color="#004100"/>
<stop offset="0.9662" stop-color="#003a00"/><stop offset="0.9688" stop-color="#003a00"/>
<stop offset="0.9688" stop-color="#004e00"/><stop offset="0.9714" stop-color="#004e00"/>
<stop offset="0.9714" stop-color="#004c00"/><stop offset="0.9740" stop-color="#004c00"/>
<stop offset="0.9740" stop-color="#005100"/><stop offset="0.9766" stop-color="#005100"/>
<stop offset="0.9766" stop-color="#006200"/><stop offset="0.9792" stop-color="#006200"/>
<stop offset="0.9792" stop-color="#004500"/><stop offset="0.9818" stop-color="#004500"/>
<stop offset="0.9818" stop-color="#004b00"/><stop offset="0.9844" stop-color="#004b00"/>
<stop offset="0.9844" stop-color="#004e00"/><stop offset="0.9870" stop-color="#004e00"/>
<stop offset="0.9870" stop-color="#005900"/><stop offset="0.9896" stop-color="#005900"/>
<stop offset="0.9896" stop-color="#005500"/><stop offset="0.9922" stop-color="#005500"/>
<stop offset="0.9922" stop-color="#004500"/><stop offset="0.9948" stop-color="#004500"/>
<stop offset="0.9948" stop-color="#004200"/><stop offset="0.9974" stop-color="#004200"/>
<stop offset="0.9974" stop-color="#004900"/><stop offset="1.0000" stop-color="#004900"/>
</linearGradient>
<filter id="cmc" x="0" y="0" width="1" height="1" color-interpolation-filters="sRGB"><feColorMatrix type="matrix" values=".5 .5 0 0 0 .5 .5 0 0 0 .5 .5 0 0 0 0 0 0 1 0"/><feComponentTransfer><feFuncR type="table" tableValues="0.248 0.248 0.253 0.253 0.257 0.257 0.257 0.262 0.262 0.266 0.266 0.271 0.276 0.276 0.281 0.285 0.285 0.290 0.295 0.299 0.304 0.309 0.314 0.324 0.329 0.333 0.343 0.348 0.358 0.369 0.379 0.389 0.399 0.410 0.425 0.436 0.452 0.468 0.484 0.505 0.522 0.543 0.565 0.587 0.614 0.641 0.667 0.698 0.729 0.759 0.791 0.822 0.855 0.888 0.916 0.943 0.961 0.969 0.967 0.953 0.924 0.881 0.816 0.735 0.706 0.706 0.706 0.706 0.706 0.706 0.706 0.706 0.706 0.706 0.706 0.706 0.706 0.706 0.706 0.706 0.706 0.706 0.706 0.706 0.706 0.706 0.706 0.706 0.706 0.706 0.706 0.706 0.706 0.706 0.706 0.706"/><feFuncG type="table" tableValues="0.326 0.326 0.333 0.333 0.340 0.340 0.340 0.346 0.346 0.353 0.353 0.360 0.367 0.367 0.373 0.380 0.380 0.387 0.394 0.400 0.407 0.413 0.420 0.433 0.440 0.446 0.459 0.466 0.478 0.491 0.504 0.516 0.529 0.541 0.559 0.571 0.588 0.606 0.622 0.644 0.660 0.680 0.699 0.718 0.740 0.761 0.779 0.799 0.817 0.833 0.847 0.857 0.864 0.854 0.834 0.802 0.763 0.716 0.657 0.585 0.499 0.402 0.278 0.104 0.016 0.016 0.016 0.016 0.016 0.016 0.016 0.016 0.016 0.016 0.016 0.016 0.016 0.016 0.016 0.016 0.016 0.016 0.016 0.016 0.016 0.016 0.016 0.016 0.016 0.016 0.016 0.016 0.016 0.016 0.016 0.016"/><feFuncB type="table" tableValues="0.778 0.778 0.784 0.784 0.790 0.790 0.790 0.796 0.796 0.802 0.802 0.807 0.813 0.813 0.818 0.823 0.823 0.829 0.834 0.840 0.845 0.850 0.855 0.865 0.870 0.874 0.884 0.888 0.897 0.905 0.914 0.921 0.928 0.936 0.946 0.952 0.960 0.969 0.975 0.983 0.988 0.993 0.997 0.999 0.999 0.998 0.993 0.985 0.973 0.958 0.937 0.911 0.877 0.835 0.789 0.729 0.668 0.606 0.538 0.465 0.389 0.317 0.240 0.171 0.150 0.150 0.150 0.150 0.150 0.150 0.150 0.150 0.150 0.150 0.150 0.150 0.150 0.150 0.150 0.150 0.150 0.150 0.150 0.150 0.150 0.150 0.150 0.150 0.150 0.150 0.150 0.150 0.150 0.150 0.150 0.150"/></feComponentTransfer></filter>
<linearGradient id="cbar" x1="0" y1="0" x2="1" y2="0">
<stop offset="0" stop-color="#b40426"/>
<stop offset="0.05" stop-color="#c53334"/>
<stop offset="0.1" stop-color="#d65244"/>
<stop offset="0.15" stop-color="#e36c55"/>
<stop offset="0.2" stop-color="#ee8468"/>
<stop offset="0.25" stop-color="#f4987a"/>
<stop offset="0.3" stop-color="#f7ac8e"/>
<stop offset="0.35" stop-color="#f6bda2"/>
<stop offset="0.4" stop-color="#f2cbb7"/>
<stop offset="0.45" stop-color="#e9d5cb"/>
<stop offset="0.5" stop-color="#dddcdc"/>
<stop offset="0.55" stop-color="#cfdaea"/>
<stop offset="0.6" stop-color="#c0d4f5"/>
<stop offset="0.65" stop-color="#afcafc"/>
<stop offset="0.7" stop-color="#9ebeff"/>
<stop offset="0.75" stop-color="#8db0fe"/>
<stop offset="0.8" stop-color="#7b9ff9"/>
<stop offset="0.85" stop-color="#6a8bef"/>
<stop offset="0.9" stop-color="#5977e3"/>
<stop offset="0.95" stop-color="#4961d2"/>
<stop offset="1" stop-color="#3b4cc0"/>
</linearGradient>
<linearGradient id="ge" gradientUnits="userSpaceOnUse" x1="0" y1="563" x2="0" y2="982"><stop offset="0" stop-color="#5c7ee3"/><stop offset="0.47" stop-color="#5c7ee3"/><stop offset="1" stop-color="#e9edfb"/></linearGradient>
<linearGradient id="gf" gradientUnits="userSpaceOnUse" x1="0" y1="562" x2="0" y2="982"><stop offset="0" stop-color="#5c7ee3"/><stop offset="0.57" stop-color="#5c7ee3"/><stop offset="1" stop-color="#e6eafb"/></linearGradient>
<linearGradient id="gg" gradientUnits="userSpaceOnUse" x1="0" y1="567" x2="0" y2="982"><stop offset="0" stop-color="#5c7ee3"/><stop offset="0.48" stop-color="#5c7ee3"/><stop offset="1" stop-color="#f6f7fd"/></linearGradient>
</defs>
<rect width="1750" height="1072" fill="#fff"/>
<g>
<text font-size="47.7" textLength="23.47" lengthAdjust="spacingAndGlyphs" transform="translate(0.41 38.51) rotate(0.03)" font-weight="bold">a</text>
<text font-size="46.4" textLength="26.37" lengthAdjust="spacingAndGlyphs" transform="translate(554.92 39.12) rotate(0.03)" font-weight="bold">b</text>
<text font-size="48.18" textLength="21.86" lengthAdjust="spacingAndGlyphs" transform="translate(1119.54 38.73) rotate(0.03)" font-weight="bold">c</text>
<text font-size="45.69" textLength="26.19" lengthAdjust="spacingAndGlyphs" transform="translate(1474.22 39.63) rotate(0.03)" font-weight="bold">d</text>
<text font-size="48.91" textLength="21.57" lengthAdjust="spacingAndGlyphs" transform="translate(0.06 572.32) rotate(0.03)" font-weight="bold">e</text>
<text font-size="46.37" textLength="17.72" lengthAdjust="spacingAndGlyphs" transform="translate(555.74 577.58) rotate(0.03)" font-weight="bold">f</text>
<text font-size="45.31" textLength="27.97" lengthAdjust="spacingAndGlyphs" transform="translate(1126.45 564.68) rotate(0.03)" font-weight="bold">g</text>
</g>
<g id="pa">
<path d="M145 63V481.6M191 63V481.6M283.6 63V481.6M329.6 63V481.6M375.6 63V481.6M468 63V481.6M99 109.6H514.4M99 156H514.4M99 249.2H514.4M99 295.6H514.4M99 342.4H514.4M99 435.4H514.4" stroke="#282828" stroke-width="4.2" fill="none"/>
<circle cx="145" cy="109.6" r="8.3" fill="#fff"/>
<circle cx="191" cy="109.6" r="8.3" fill="#5b7be1"/>
<circle cx="283.6" cy="109.6" r="8.3" fill="#5b7be1"/>
<circle cx="329.6" cy="109.6" r="8.3" fill="#e57272"/>
<circle cx="375.6" cy="109.6" r="8.3" fill="#e57272"/>
<circle cx="468" cy="109.6" r="8.3" fill="#e57272"/>
<circle cx="145" cy="156" r="8.3" fill="#5b7be1"/>
<circle cx="191" cy="156" r="8.3" fill="#fff"/>
<circle cx="283.6" cy="156" r="8.3" fill="#5b7be1"/>
<circle cx="329.6" cy="156" r="8.3" fill="#e57272"/>
<circle cx="375.6" cy="156" r="8.3" fill="#e57272"/>
<circle cx="468" cy="156" r="8.3" fill="#e57272"/>
<circle cx="145" cy="249.2" r="8.3" fill="#5b7be1"/>
<circle cx="191" cy="249.2" r="8.3" fill="#5b7be1"/>
<circle cx="283.6" cy="249.2" r="8.3" fill="#fff"/>
<circle cx="329.6" cy="249.2" r="8.3" fill="#e57272"/>
<circle cx="375.6" cy="249.2" r="8.3" fill="#e57272"/>
<circle cx="468" cy="249.2" r="8.3" fill="#e57272"/>
<circle cx="145" cy="295.6" r="8.3" fill="#e57272"/>
<circle cx="191" cy="295.6" r="8.3" fill="#e57272"/>
<circle cx="283.6" cy="295.6" r="8.3" fill="#e57272"/>
<circle cx="329.6" cy="295.6" r="8.3" fill="#fff"/>
<circle cx="375.6" cy="295.6" r="8.3" fill="#5b7be1"/>
<circle cx="468" cy="295.6" r="8.3" fill="#5b7be1"/>
<circle cx="145" cy="342.4" r="8.3" fill="#e57272"/>
<circle cx="191" cy="342.4" r="8.3" fill="#e57272"/>
<circle cx="283.6" cy="342.4" r="8.3" fill="#e57272"/>
<circle cx="329.6" cy="342.4" r="8.3" fill="#5b7be1"/>
<circle cx="375.6" cy="342.4" r="8.3" fill="#fff"/>
<circle cx="468" cy="342.4" r="8.3" fill="#5b7be1"/>
<circle cx="145" cy="435.4" r="8.3" fill="#e57272"/>
<circle cx="191" cy="435.4" r="8.3" fill="#e57272"/>
<circle cx="283.6" cy="435.4" r="8.3" fill="#e57272"/>
<circle cx="329.6" cy="435.4" r="8.3" fill="#5b7be1"/>
<circle cx="375.6" cy="435.4" r="8.3" fill="#5b7be1"/>
<circle cx="468" cy="435.4" r="8.3" fill="#fff"/>
<path d="M141 58.3C142.5 52.9 148 49.5 160 49.3L188.5 48.7C202.5 48.1 209.5 45.6 212.5 42.1C215.5 45.6 222.5 48.1 236.5 48.7L266 49.3C278 49.5 283.5 52.9 285 58.3C281.5 55.06 276 54.2 265 54.1L236.5 53.6C223.5 53.2 216 50.22 212.5 44.7C209 50.22 201.5 53.2 188.5 53.6L161 54.1C150 54.2 144.5 55.06 141 58.3Z" fill="#000"/>
<path d="M326 58.3C327.5 52.9 333 49.5 345 49.3L374.4 48.7C388.4 48.1 395.4 45.6 398.4 42.1C401.4 45.6 408.4 48.1 422.4 48.7L452 49.3C464 49.5 469.5 52.9 471 58.3C467.5 55.06 462 54.2 451 54.1L422.4 53.6C409.4 53.2 401.9 50.22 398.4 44.7C394.9 50.22 387.4 53.2 374.4 53.6L346 54.1C335 54.2 329.5 55.06 326 58.3Z" fill="#000"/>
<path d="M90.8 111C86.9 112.5 83.58 118 83.39 130L82.8 154C82.22 168 79.1 175 75 178C79.1 181 82.22 188 82.8 202L83.39 228C83.58 240 86.9 245.5 90.8 247C88.46 243.5 88.17 238 88.07 227L87.58 202C87.19 189 83.88 181.5 77.54 178C83.88 174.5 87.19 167 87.58 154L88.07 131C88.17 120 88.46 114.5 90.8 111Z" fill="#000"/>
<path d="M90.8 295C86.9 296.5 83.58 302 83.39 314L82.8 340.4C82.22 354.4 79.1 361.4 75 364.4C79.1 367.4 82.22 374.4 82.8 388.4L83.39 414.6C83.58 426.6 86.9 432.1 90.8 433.6C88.46 430.1 88.17 424.6 88.07 413.6L87.58 388.4C87.19 375.4 83.88 367.9 77.54 364.4C83.88 360.9 87.19 353.4 87.58 340.4L88.07 315C88.17 304 88.46 298.5 90.8 295Z" fill="#000"/>
<text transform="translate(221.43 87.39) rotate(0.03)" font-size="39.8" letter-spacing="1.15">...</text>
<text transform="translate(404.02 87.39) rotate(0.03)" font-size="39.8" letter-spacing="1.15">...</text>
<text transform="translate(119.79 212.97) rotate(-89.97)" font-size="39.8" letter-spacing="1.15">...</text>
<text transform="translate(119.79 399.28) rotate(-89.97)" font-size="39.8" letter-spacing="1.15">...</text>
<text font-size="36.2" textLength="130.04" lengthAdjust="spacingAndGlyphs" transform="translate(144.56 33.9) rotate(0.03)">Station A</text>
<text font-size="36.2" textLength="130.53" lengthAdjust="spacingAndGlyphs" transform="translate(331.92 33.9) rotate(0.03)">Station B</text>
<text font-size="36.2" textLength="129.02" lengthAdjust="spacingAndGlyphs" transform="translate(53.2 249.02) rotate(-89.97)">Station A</text>
<text font-size="36.2" textLength="129.5" lengthAdjust="spacingAndGlyphs" transform="translate(53.2 427.06) rotate(-89.97)">Station B</text>
</g>
<g id="pb">
<g clip-path="url(#cpb)"><g filter="url(#cmb)">
<g shape-rendering="crispEdges" fill="none" stroke-width="1">
<path d="M966.5 65V455M1038.5 65V455" stroke="#000000"/>
<path d="M860.5 65V455" stroke="#020000"/>
<path d="M756.5 65V455" stroke="#030000"/>
<path d="M908.5 65V455M951.5 65V455" stroke="#040000"/>
<path d="M975.5 65V455M1025.5 65V455" stroke="#060000"/>
<path d="M781.5 65V455" stroke="#070000"/>
<path d="M961.5 65V455" stroke="#080000"/>
<path d="M925.5 65V455M960.5 65V455" stroke="#090000"/>
<path d="M986.5 65V455M1036.5 65V455" stroke="#0a0000"/>
<path d="M803.5 65V455M841.5 65V455M929.5 65V455M1009.5 65V455" stroke="#0b0000"/>
<path d="M948.5 65V455M994.5 65V455" stroke="#0c0000"/>
<path d="M903.5 65V455M1052.5 65V455" stroke="#0d0000"/>
<path d="M1004.5 65V455M1041.5 65V455" stroke="#0e0000"/>
<path d="M787.5 65V455M853.5 65V455M863.5 65V455M944.5 65V455M1011.5 65V455" stroke="#0f0000"/>
<path d="M973.5 65V455" stroke="#100000"/>
<path d="M743.5 65V455M885.5 65V455M924.5 65V455M956.5 65V455M983.5 65V455" stroke="#110000"/>
<path d="M792.5 65V455M837.5 65V455M858.5 65V455M870.5 65V455M1043.5 65V455" stroke="#120000"/>
<path d="M805.5 65V455" stroke="#130000"/>
<path d="M832.5 65V455" stroke="#140000"/>
<path d="M816.5 65V455M1000.5 65V455M1032.5 65V455" stroke="#150000"/>
<path d="M752.5 65V455M895.5 65V455M919.5 65V455" stroke="#160000"/>
<path d="M898.5 65V455M901.5 65V455M1051.5 65V455" stroke="#170000"/>
<path d="M731.5 65V455M941.5 65V455M1016.5 65V455" stroke="#180000"/>
<path d="M999.5 65V455" stroke="#190000"/>
<path d="M767.5 65V455M823.5 65V455M838.5 65V455M940.5 65V455M974.5 65V455M997.5 65V455M998.5 65V455" stroke="#1a0000"/>
<path d="M854.5 65V455M1020.5 65V455M1021.5 65V455M1023.5 65V455M1045.5 65V455" stroke="#1b0000"/>
<path d="M701.5 65V455M763.5 65V455M772.5 65V455" stroke="#1c0000"/>
<path d="M747.5 65V455M871.5 65V455M907.5 65V455M945.5 65V455M952.5 65V455M1001.5 65V455" stroke="#1d0000"/>
<path d="M757.5 65V455M765.5 65V455M814.5 65V455M851.5 65V455M876.5 65V455M880.5 65V455M993.5 65V455" stroke="#1e0000"/>
<path d="M806.5 65V455M815.5 65V455M949.5 65V455M969.5 65V455M976.5 65V455M1002.5 65V455M1042.5 65V455" stroke="#1f0000"/>
<path d="M720.5 65V455M868.5 65V455M873.5 65V455M955.5 65V455M978.5 65V455M990.5 65V455M1008.5 65V455M1050.5 65V455" stroke="#200000"/>
<path d="M748.5 65V455M818.5 65V455M861.5 65V455M916.5 65V455M954.5 65V455M989.5 65V455M1026.5 65V455M1031.5 65V455" stroke="#210000"/>
<path d="M852.5 65V455M867.5 65V455M912.5 65V455M977.5 65V455M981.5 65V455M985.5 65V455M1010.5 65V455M1012.5 65V455M1029.5 65V455M1035.5 65V455" stroke="#220000"/>
<path d="M732.5 65V455M808.5 65V455M869.5 65V455M877.5 65V455M891.5 65V455M947.5 65V455M982.5 65V455M984.5 65V455M1019.5 65V455M1049.5 65V455M1053.5 65V455M1054.5 65V455M1056.5 65V455" stroke="#230000"/>
<path d="M735.5 65V455M790.5 65V455M845.5 65V455M894.5 65V455M914.5 65V455M933.5 65V455M935.5 65V455M943.5 65V455M996.5 65V455M1005.5 65V455M1006.5 65V455M1022.5 65V455M1024.5 65V455M1033.5 65V455M1039.5 65V455M1048.5 65V455M1057.5 65V455" stroke="#240000"/>
<path d="M718.5 65V455M722.5 65V455M769.5 65V455M793.5 65V455M802.5 65V455M883.5 65V455M905.5 65V455M923.5 65V455M950.5 65V455M958.5 65V455M964.5 65V455M968.5 65V455M972.5 65V455M992.5 65V455M1030.5 65V455M1055.5 65V455" stroke="#250000"/>
<path d="M774.5 65V455M778.5 65V455M830.5 65V455M835.5 65V455M875.5 65V455M882.5 65V455M904.5 65V455M915.5 65V455M917.5 65V455M918.5 65V455M932.5 65V455M937.5 65V455M970.5 65V455M980.5 65V455M988.5 65V455M1003.5 65V455M1013.5 65V455M1034.5 65V455M1037.5 65V455M1046.5 65V455" stroke="#260000"/>
<path d="M804.5 65V455M836.5 65V455M847.5 65V455M878.5 65V455M889.5 65V455M890.5 65V455M897.5 65V455M910.5 65V455M921.5 65V455M934.5 65V455M957.5 65V455M967.5 65V455M987.5 65V455M991.5 65V455M1014.5 65V455M1027.5 65V455M1047.5 65V455" stroke="#270000"/>
<path d="M749.5 65V455M801.5 65V455M810.5 65V455M811.5 65V455M833.5 65V455M855.5 65V455M884.5 65V455M887.5 65V455M892.5 65V455M900.5 65V455M906.5 65V455M920.5 65V455M930.5 65V455M939.5 65V455M953.5 65V455M995.5 65V455M1028.5 65V455M1044.5 65V455" stroke="#280000"/>
<path d="M727.5 65V455M807.5 65V455M839.5 65V455M842.5 65V455M866.5 65V455M926.5 65V455M936.5 65V455M946.5 65V455M962.5 65V455M971.5 65V455" stroke="#290000"/>
<path d="M716.5 65V455M770.5 65V455M788.5 65V455M797.5 65V455M799.5 65V455M809.5 65V455M849.5 65V455M857.5 65V455M879.5 65V455M881.5 65V455M886.5 65V455M893.5 65V455M896.5 65V455M911.5 65V455M922.5 65V455M928.5 65V455M942.5 65V455M979.5 65V455" stroke="#2a0000"/>
<path d="M785.5 65V455M798.5 65V455M812.5 65V455M827.5 65V455M848.5 65V455M864.5 65V455M872.5 65V455M874.5 65V455M899.5 65V455M927.5 65V455M959.5 65V455M1015.5 65V455M1040.5 65V455" stroke="#2b0000"/>
<path d="M784.5 65V455M822.5 65V455M844.5 65V455M846.5 65V455M865.5 65V455M902.5 65V455M909.5 65V455M913.5 65V455M931.5 65V455M938.5 65V455M965.5 65V455M1007.5 65V455M1018.5 65V455" stroke="#2c0000"/>
<path d="M746.5 65V455M776.5 65V455M791.5 65V455M800.5 65V455M813.5 65V455M834.5 65V455M843.5 65V455M856.5 65V455M859.5 65V455M963.5 65V455" stroke="#2d0000"/>
<path d="M715.5 65V455M761.5 65V455M766.5 65V455M777.5 65V455M783.5 65V455M794.5 65V455M796.5 65V455M831.5 65V455M840.5 65V455M850.5 65V455M888.5 65V455" stroke="#2e0000"/>
<path d="M699.5 65V455M750.5 65V455M782.5 65V455M828.5 65V455M1017.5 65V455" stroke="#2f0000"/>
<path d="M789.5 65V455M817.5 65V455" stroke="#300000"/>
<path d="M728.5 65V455M753.5 65V455M759.5 65V455M760.5 65V455M762.5 65V455M768.5 65V455M771.5 65V455M780.5 65V455M795.5 65V455M819.5 65V455M862.5 65V455" stroke="#310000"/>
<path d="M733.5 65V455M736.5 65V455M751.5 65V455" stroke="#320000"/>
<path d="M734.5 65V455M745.5 65V455M779.5 65V455M826.5 65V455" stroke="#330000"/>
<path d="M742.5 65V455M758.5 65V455M764.5 65V455M824.5 65V455M829.5 65V455" stroke="#340000"/>
<path d="M723.5 65V455M738.5 65V455M773.5 65V455M786.5 65V455M820.5 65V455M825.5 65V455" stroke="#350000"/>
<path d="M710.5 65V455M739.5 65V455M775.5 65V455M821.5 65V455" stroke="#360000"/>
<path d="M744.5 65V455M754.5 65V455" stroke="#370000"/>
<path d="M709.5 65V455M712.5 65V455M729.5 65V455M755.5 65V455" stroke="#380000"/>
<path d="M711.5 65V455M725.5 65V455" stroke="#390000"/>
<path d="M721.5 65V455M740.5 65V455M741.5 65V455" stroke="#3b0000"/>
<path d="M702.5 65V455M719.5 65V455M724.5 65V455M737.5 65V455" stroke="#3c0000"/>
<path d="M694.5 65V455" stroke="#3d0000"/>
<path d="M700.5 65V455M726.5 65V455" stroke="#3e0000"/>
<path d="M703.5 65V455M730.5 65V455" stroke="#3f0000"/>
<path d="M713.5 65V455" stroke="#400000"/>
<path d="M686.5 65V455" stroke="#430000"/>
<path d="M717.5 65V455" stroke="#440000"/>
<path d="M692.5 65V455M697.5 65V455" stroke="#450000"/>
<path d="M698.5 65V455" stroke="#460000"/>
<path d="M696.5 65V455M708.5 65V455M714.5 65V455" stroke="#470000"/>
<path d="M693.5 65V455" stroke="#490000"/>
<path d="M682.5 65V455M695.5 65V455" stroke="#4a0000"/>
<path d="M704.5 65V455" stroke="#4b0000"/>
<path d="M685.5 65V455M689.5 65V455M691.5 65V455" stroke="#4c0000"/>
<path d="M707.5 65V455" stroke="#4d0000"/>
<path d="M688.5 65V455" stroke="#4f0000"/>
<path d="M684.5 65V455" stroke="#530000"/>
<path d="M681.5 65V455M705.5 65V455M706.5 65V455" stroke="#540000"/>
<path d="M680.5 65V455M683.5 65V455M690.5 65V455" stroke="#550000"/>
<path d="M687.5 65V455" stroke="#560000"/>
<path d="M674.5 65V455M677.5 65V455" stroke="#570000"/>
<path d="M678.5 65V455" stroke="#580000"/>
<path d="M673.5 65V455M679.5 65V455" stroke="#590000"/>
<path d="M676.5 65V455" stroke="#5d0000"/>
<path d="M671.5 65V455M675.5 65V455" stroke="#600000"/>
<path d="M672.5 65V455" stroke="#610000"/>
<path d="M670.5 65V455" stroke="#630000"/>
<path d="M669.5 65V455" stroke="#710000"/>
<path d="M668.5 65V455" stroke="#8b0000"/>
<path d="M667.5 65V455" stroke="#e50000"/>
</g>
<g shape-rendering="crispEdges" fill="none" stroke-width="1" style="mix-blend-mode:lighten">
<path d="M667 76.5H1058M667 130.5H1058M667 172.5H1058" stroke="#000000"/>
<path d="M667 236.5H1058" stroke="#000300"/>
<path d="M667 270.5H1058" stroke="#000700"/>
<path d="M667 151.5H1058M667 342.5H1058" stroke="#000900"/>
<path d="M667 73.5H1058M667 311.5H1058" stroke="#000a00"/>
<path d="M667 89.5H1058M667 318.5H1058" stroke="#000c00"/>
<path d="M667 97.5H1058M667 180.5H1058M667 267.5H1058" stroke="#000e00"/>
<path d="M667 91.5H1058M667 131.5H1058M667 281.5H1058M667 383.5H1058" stroke="#000f00"/>
<path d="M667 134.5H1058" stroke="#001000"/>
<path d="M667 187.5H1058M667 232.5H1058" stroke="#001100"/>
<path d="M667 90.5H1058M667 252.5H1058M667 398.5H1058M667 406.5H1058" stroke="#001200"/>
<path d="M667 75.5H1058M667 171.5H1058M667 218.5H1058M667 306.5H1058M667 327.5H1058" stroke="#001300"/>
<path d="M667 246.5H1058" stroke="#001400"/>
<path d="M667 324.5H1058M667 346.5H1058M667 392.5H1058" stroke="#001500"/>
<path d="M667 376.5H1058" stroke="#001600"/>
<path d="M667 77.5H1058" stroke="#001700"/>
<path d="M667 269.5H1058" stroke="#001800"/>
<path d="M667 103.5H1058M667 211.5H1058M667 219.5H1058M667 388.5H1058" stroke="#001900"/>
<path d="M667 264.5H1058" stroke="#001a00"/>
<path d="M667 84.5H1058M667 110.5H1058M667 169.5H1058M667 182.5H1058M667 424.5H1058" stroke="#001b00"/>
<path d="M667 67.5H1058M667 88.5H1058M667 237.5H1058M667 312.5H1058M667 428.5H1058" stroke="#001c00"/>
<path d="M667 224.5H1058M667 293.5H1058" stroke="#001d00"/>
<path d="M667 124.5H1058M667 141.5H1058M667 144.5H1058M667 146.5H1058M667 186.5H1058M667 193.5H1058M667 253.5H1058M667 338.5H1058" stroke="#001e00"/>
<path d="M667 72.5H1058M667 79.5H1058M667 177.5H1058M667 185.5H1058M667 196.5H1058M667 199.5H1058M667 271.5H1058" stroke="#001f00"/>
<path d="M667 65.5H1058M667 153.5H1058M667 178.5H1058M667 184.5H1058M667 202.5H1058M667 285.5H1058M667 381.5H1058" stroke="#002000"/>
<path d="M667 71.5H1058M667 85.5H1058M667 94.5H1058M667 136.5H1058M667 149.5H1058M667 168.5H1058M667 181.5H1058M667 183.5H1058M667 192.5H1058M667 217.5H1058" stroke="#002100"/>
<path d="M667 87.5H1058M667 133.5H1058M667 140.5H1058M667 165.5H1058M667 214.5H1058M667 282.5H1058" stroke="#002200"/>
<path d="M667 86.5H1058M667 92.5H1058M667 93.5H1058M667 106.5H1058M667 121.5H1058M667 132.5H1058M667 142.5H1058M667 205.5H1058M667 292.5H1058M667 299.5H1058M667 314.5H1058M667 366.5H1058" stroke="#002300"/>
<path d="M667 78.5H1058M667 96.5H1058M667 105.5H1058M667 118.5H1058M667 135.5H1058M667 145.5H1058M667 154.5H1058M667 155.5H1058M667 159.5H1058M667 160.5H1058M667 164.5H1058M667 179.5H1058M667 195.5H1058M667 198.5H1058M667 201.5H1058M667 251.5H1058M667 280.5H1058M667 294.5H1058M667 303.5H1058M667 310.5H1058" stroke="#002400"/>
<path d="M667 68.5H1058M667 80.5H1058M667 95.5H1058M667 162.5H1058M667 210.5H1058M667 238.5H1058M667 254.5H1058M667 259.5H1058M667 275.5H1058M667 296.5H1058M667 313.5H1058" stroke="#002500"/>
<path d="M667 69.5H1058M667 70.5H1058M667 74.5H1058M667 81.5H1058M667 82.5H1058M667 98.5H1058M667 99.5H1058M667 122.5H1058M667 123.5H1058M667 148.5H1058M667 150.5H1058M667 157.5H1058M667 163.5H1058M667 166.5H1058M667 175.5H1058M667 194.5H1058M667 212.5H1058M667 247.5H1058M667 262.5H1058M667 273.5H1058M667 368.5H1058" stroke="#002600"/>
<path d="M667 83.5H1058M667 119.5H1058M667 126.5H1058M667 127.5H1058M667 128.5H1058M667 158.5H1058M667 190.5H1058M667 207.5H1058M667 225.5H1058M667 235.5H1058M667 244.5H1058M667 298.5H1058M667 335.5H1058" stroke="#002700"/>
<path d="M667 66.5H1058M667 147.5H1058M667 161.5H1058M667 167.5H1058M667 197.5H1058M667 204.5H1058M667 206.5H1058M667 233.5H1058M667 242.5H1058M667 250.5H1058M667 257.5H1058M667 258.5H1058M667 263.5H1058M667 266.5H1058M667 268.5H1058M667 272.5H1058M667 322.5H1058M667 326.5H1058M667 348.5H1058M667 375.5H1058" stroke="#002800"/>
<path d="M667 112.5H1058M667 117.5H1058M667 129.5H1058M667 156.5H1058M667 200.5H1058M667 203.5H1058M667 209.5H1058M667 226.5H1058M667 228.5H1058M667 243.5H1058M667 245.5H1058M667 265.5H1058M667 274.5H1058M667 289.5H1058M667 297.5H1058M667 307.5H1058M667 331.5H1058" stroke="#002900"/>
<path d="M667 113.5H1058M667 125.5H1058M667 137.5H1058M667 138.5H1058M667 139.5H1058M667 143.5H1058M667 173.5H1058M667 188.5H1058M667 189.5H1058M667 191.5H1058M667 221.5H1058M667 222.5H1058M667 223.5H1058M667 227.5H1058M667 239.5H1058M667 240.5H1058M667 241.5H1058M667 249.5H1058M667 261.5H1058M667 283.5H1058M667 317.5H1058M667 343.5H1058M667 345.5H1058M667 354.5H1058" stroke="#002a00"/>
<path d="M667 102.5H1058M667 107.5H1058M667 109.5H1058M667 111.5H1058M667 116.5H1058M667 152.5H1058M667 176.5H1058M667 213.5H1058M667 230.5H1058M667 248.5H1058M667 288.5H1058M667 290.5H1058M667 305.5H1058M667 308.5H1058M667 321.5H1058M667 328.5H1058M667 330.5H1058M667 393.5H1058M667 396.5H1058" stroke="#002b00"/>
<path d="M667 174.5H1058M667 215.5H1058M667 216.5H1058M667 229.5H1058M667 255.5H1058M667 260.5H1058M667 279.5H1058M667 300.5H1058M667 316.5H1058M667 319.5H1058M667 320.5H1058M667 337.5H1058M667 382.5H1058" stroke="#002c00"/>
<path d="M667 104.5H1058M667 108.5H1058M667 120.5H1058M667 170.5H1058M667 208.5H1058M667 231.5H1058M667 256.5H1058M667 276.5H1058M667 286.5H1058M667 295.5H1058M667 301.5H1058M667 304.5H1058M667 309.5H1058M667 323.5H1058M667 336.5H1058M667 347.5H1058M667 351.5H1058M667 391.5H1058M667 402.5H1058" stroke="#002d00"/>
<path d="M667 234.5H1058M667 284.5H1058M667 334.5H1058M667 341.5H1058M667 344.5H1058M667 360.5H1058M667 362.5H1058M667 387.5H1058" stroke="#002e00"/>
<path d="M667 115.5H1058M667 277.5H1058M667 355.5H1058M667 363.5H1058M667 364.5H1058M667 367.5H1058M667 372.5H1058M667 373.5H1058M667 386.5H1058M667 389.5H1058" stroke="#002f00"/>
<path d="M667 114.5H1058M667 315.5H1058M667 340.5H1058M667 356.5H1058M667 357.5H1058M667 385.5H1058M667 390.5H1058" stroke="#003000"/>
<path d="M667 291.5H1058M667 325.5H1058M667 329.5H1058M667 332.5H1058M667 333.5H1058M667 349.5H1058M667 350.5H1058M667 352.5H1058M667 353.5H1058M667 358.5H1058" stroke="#003100"/>
<path d="M667 287.5H1058M667 302.5H1058M667 365.5H1058M667 378.5H1058M667 384.5H1058M667 397.5H1058" stroke="#003200"/>
<path d="M667 220.5H1058M667 278.5H1058M667 359.5H1058M667 377.5H1058" stroke="#003300"/>
<path d="M667 361.5H1058" stroke="#003400"/>
<path d="M667 379.5H1058M667 380.5H1058M667 394.5H1058M667 400.5H1058" stroke="#003500"/>
<path d="M667 339.5H1058M667 369.5H1058M667 370.5H1058M667 371.5H1058M667 405.5H1058M667 411.5H1058" stroke="#003600"/>
<path d="M667 101.5H1058M667 374.5H1058" stroke="#003700"/>
<path d="M667 409.5H1058M667 410.5H1058" stroke="#003800"/>
<path d="M667 395.5H1058M667 404.5H1058M667 419.5H1058" stroke="#003900"/>
<path d="M667 421.5H1058M667 422.5H1058" stroke="#003a00"/>
<path d="M667 100.5H1058M667 401.5H1058M667 408.5H1058M667 420.5H1058M667 425.5H1058" stroke="#003b00"/>
<path d="M667 399.5H1058M667 403.5H1058M667 407.5H1058M667 412.5H1058" stroke="#003c00"/>
<path d="M667 443.5H1058" stroke="#003f00"/>
<path d="M667 423.5H1058" stroke="#004000"/>
<path d="M667 427.5H1058" stroke="#004100"/>
<path d="M667 426.5H1058M667 429.5H1058M667 430.5H1058M667 432.5H1058" stroke="#004200"/>
<path d="M667 413.5H1058M667 417.5H1058M667 418.5H1058" stroke="#004400"/>
<path d="M667 414.5H1058" stroke="#004700"/>
<path d="M667 440.5H1058" stroke="#004800"/>
<path d="M667 431.5H1058M667 433.5H1058" stroke="#004900"/>
<path d="M667 436.5H1058" stroke="#004a00"/>
<path d="M667 434.5H1058" stroke="#004b00"/>
<path d="M667 437.5H1058" stroke="#004d00"/>
<path d="M667 416.5H1058" stroke="#005100"/>
<path d="M667 435.5H1058M667 441.5H1058M667 442.5H1058" stroke="#005300"/>
<path d="M667 415.5H1058M667 438.5H1058" stroke="#005400"/>
<path d="M667 439.5H1058" stroke="#005500"/>
<path d="M667 448.5H1058" stroke="#005600"/>
<path d="M667 445.5H1058M667 446.5H1058" stroke="#005700"/>
<path d="M667 444.5H1058" stroke="#005900"/>
<path d="M667 449.5H1058" stroke="#005a00"/>
<path d="M667 447.5H1058" stroke="#005c00"/>
<path d="M667 450.5H1058" stroke="#006500"/>
<path d="M667 452.5H1058" stroke="#006800"/>
<path d="M667 451.5H1058" stroke="#006b00"/>
<path d="M667 453.5H1058" stroke="#008f00"/>
<path d="M667 454.5H1058" stroke="#00d800"/>
</g>
</g></g>
<path d="M668 -2.04L668.8 7.57L669.6 12.81L670.4 16.8L671.2 19.78L672 21.94L672.8 23.62L673.6 24.94L674.4 25.98L675.2 26.82L676 27.59L676.8 28.49L677.6 29.39L678.4 30.31L679.2 31.13L680 31.93L680.8 32.7L681.6 33.42L682.4 34.25L683.2 34.86L684 35.49L684.8 36.1L685.6 36.68L686.4 37.07L687.2 37.41L688 37.81L688.8 38.25L689.6 38.55L690.4 38.85L691.2 39.22L692 39.61L692.8 40.02L693.6 40.11L694.4 40.47L695.2 40.76L696 40.93L696.8 41.33L697.6 41.61L698.4 42.07L699.2 42.24L700 42.37L700.8 42.84L701.6 43L702.4 43.11L703.2 43.46L704 43.7L704.8 43.9L705.6 44.21L706 44.45L706.38 17L706.62 17L707 44.45L707.2 44.6L708 44.95L708.8 45.13L709.6 45.36L710.4 45.55L711.2 45.79L712 45.66L712.8 46.08L713.6 45.91L714.4 46.24L715.2 46.23L716 46.78L716.8 46.98L717.6 46.93L718.4 47.35L719.2 47.15L720 47.41L720.8 47.55L721.6 47.51L722.4 47.86L723.2 48.22L724 47.9L724.8 48.32L725.6 48.28L726.4 48.71L727.2 48.63L728 48.78L728.8 48.89L729.6 48.94L730.4 48.77L731.2 49.36L732 48.99L732.8 49.38L733.6 49.55L734.4 49.39L735.2 49.67L736 49.96L736.8 49.84L737.6 49.77L738.4 49.48L739.2 49.95L740 50.11L740.8 50.22L741.6 50.22L742.4 50.58L743.2 50.48L744 50.66L744.8 50.91L745.6 50.67L746.4 50.87L747.2 51.49L748 51.29L748.8 50.9L749.6 51.24L750.4 51.46L751.2 51.69L752 51.53L752.8 51.44L753.6 51.47L754.4 51.87L755.2 51.86L756 51.73L756.8 51.88L757.6 51.9L758.4 52.25L759.2 51.97L760 52.33L760.8 52.49L761.6 52.47L762.4 52.2L763.2 52.83L764 52.39L764.8 52.75L765.6 52.52L766.4 52.33L767.2 52.92L768 53.01L768.8 52.98L769.6 53.14L770.4 52.96L771.2 53L772 53.21L772.8 53.83L773.6 53.59L774.4 53.27L775.2 53.6L776 53.35L776.8 53.39L777.6 53.78L778.4 53.41L779.2 53.09L780 53.3L780.8 53.58L781.6 53.59L782.4 53.9L783.2 53.32L783.9 53.51L784.28 41L784.52 41L784.9 53.51L785.6 53.44L786.4 53.71L787.2 53.58L788 53.15L788.8 53.7L789.6 52.97L790.4 53.32L791.2 53.26L792 53.34L792.8 52.93L793.6 53.08L794.4 52.99L795.2 53.27L796 52.63L796.8 52.81L797.6 52.61L798.4 52.18L799.2 53.33L800 52.32L800.4 51.79L800.8 52.65L801.2 51.78L801.6 52.16L802 52.24L802.4 51.65L802.8 51.63L803.2 51.49L803.6 51.52L804 50.92L804.4 50.92L804.8 51.16L805.2 51.41L805.6 51.14L806 51.35L806.4 50.85L806.8 50.28L807.2 50.23L807.6 49.4L808 49.55L808.4 49.31L808.8 49.52L809.2 49.4L809.6 48.72L810 48.43L810.4 47.8L810.8 47.95L811.2 47.73L811.6 47.42L812 46.59L812.4 47.11L812.8 46.36L813.2 45.4L813.6 44.7L814 44.17L814.4 43.67L814.8 42.9L815.2 42.3L815.6 41.54L816 40.82L816.4 39.71L816.8 38.13L817.2 37.05L817.6 35.37L818 33.73L818.4 32.84L818.8 30L819.2 28.58L819.6 25.11L820 22.28L820.4 19.08L820.8 14.85L821.2 11.44L821.6 9.6L822 11.13L822.4 14.8L822.8 18.47L823.2 22.81L823.6 25.21L824 28.53L824.4 29.22L824.8 32.22L825.2 34.2L825.6 35.46L826 37.38L826.4 38.48L826.8 39.29L827.2 40.58L827.6 42.41L828 42.32L828.4 43.12L828.8 43.57L829.2 44.44L829.6 44.52L830 45.49L830.4 47.01L830.8 46.97L831.2 47.26L831.6 47.85L832 48.53L832.4 48.4L832.8 49.3L833.2 49.23L833.6 49.18L834 50.05L834.4 48.74L834.8 49.67L835.2 50.22L835.6 49.98L836 50.47L836.4 50.47L836.8 50.64L837.2 52.12L837.6 51.47L838 51.36L838.4 52.04L838.8 51.57L839.2 52.14L839.6 52.05L840 52.67L840.4 51.59L840.8 52.56L841.2 52.41L841.6 52L842 52.98L842.4 52.3L842.8 53.38L843.2 53.02L843.6 53.18L843.9 53.05L844.28 34.4L844.52 34.4L844.9 53.05L845 53.2L845.8 53.07L846.6 53.59L847.4 53.6L848.2 54.02L849 53.58L849.8 54.82L850.6 55.17L851.4 54.28L852.2 54.5L853 54.77L853.8 55.32L854.6 55.73L855.4 54.56L856.2 54.94L857 54.88L857.8 54.98L858.6 54.87L859.4 55.83L860.2 55.29L861 56.53L861.8 56.38L862.6 55.64L863.4 55.74L864.2 56.03L865 57.01L865.8 56.12L866.6 55.93L867.4 56.67L868.2 56.95L869 56.59L869.8 57.69L870.6 57.17L871.4 57.36L872.2 56.86L873 57.31L873.8 57.34L874.6 56.46L875.4 57.7L876.2 56.83L877 57.71L877.8 57.11L878.6 58.79L879.4 58.08L880.2 58.39L881 58.47L881.8 57.48L882.6 57.09L883.4 58.06L884.2 58.69L885 58.36L885.8 58.74L886.6 58.86L887.4 57.75L888.2 58.65L889 59.5L889.8 58.33L890.6 57.66L891.4 58.57L892.2 58.5L893 58.97L893.8 58.38L894.6 58.9L895.4 57.8L896.2 59.35L897 59.76L897.8 59.65L898.6 58.29L899.4 59.25L900.2 57.63L901 59.31L901.8 59.17L902.6 58.74L903.4 59.45L904.2 59.38L905 59.82L905.8 59.45L906.6 59.54L907.4 58.46L908.2 58.9L909 59.28L909.8 59.71L910.6 59.59L911.4 60.4L912.2 59.21L913 59.57L913.8 59.86L914.6 59.64L915.4 60.05L916.2 59.52L917 60.59L917.8 59.72L918.6 60.5L919.4 59.93L920.2 60.76L921 59.27L921.8 60.31L922.6 59.84L923.4 60.22L924.2 60.76L925 59.55L925.8 59.49L926.6 59.69L927.4 60.39L928.2 59.27L929 60.36L929.8 59.65L930.6 59.75L931.4 60.2L932.2 60.63L933 60.12L933.8 60.22L934.6 60.49L935.4 60.4L936.2 59.12L937 60.37L937.8 60.68L938.6 61.27L939 60.7L939.38 56L939.62 56L940 60.7L940.2 61.09L941 60.8L941.8 60.25L942.6 60.87L943.4 61.28L944.2 61.58L945 60.42L945.8 61.07L946.6 61.43L947.4 62.05L948.2 61.18L949 60.76L949.8 60.71L950.6 60.93L951.4 60.79L952.2 61.66L953 61.83L953.8 61.67L954.6 61.97L955.4 61.06L956.2 61.57L957 61.16L957.8 61.44L958.6 62.14L959.4 61.45L960.2 60.43L961 61.39L961.8 61.15L962.6 60.72L963.4 61.16L964.2 62.21L965 62.66L965.8 61.42L966.6 62.32L967.4 62.46L968.2 61.11L969 61.8L969.8 61.82L970.6 61.98L971.4 60.96L972.2 61.72L973 62.58L973.8 62.73L974.6 63.09L975.4 61.82L976.2 63.17L977 62.47L977.8 61.28L978.5 62.13L978.88 57L979.12 57L979.5 62.13L980.2 62.47L981 62.12L981.8 62.93L982.6 62.38L983.4 62.07L984.2 62.85L985 62.44L985.8 62.05L986.6 63.1L987.4 62.09L988.2 61.96L989 62.04L989.8 61.49L990.6 62.07L991.4 63.57L992.2 61.88L993 62.47L993.8 61.79L994.6 62.11L995.4 63.45L996.2 63.08L997 62.16L997.8 62.56L998.6 62.06L999.4 62.1L1000.2 62.03L1001 62.06L1001.8 62.84L1002.5 62.66L1002.88 60L1003.12 60L1003.5 62.66L1004.2 62.58L1005 61.84L1005.8 62.67L1006.6 62.14L1007.4 63.3L1008.2 63.11L1009 63.25L1009.8 62.56L1010.6 61.64L1011.4 63.43L1012.2 63.62L1013 61.89L1013.8 62.95L1014.6 63.64L1015.4 62.19L1016.2 64.05L1017 62.69L1017.5 62.94L1017.88 54.4L1018.12 54.4L1018.5 62.94L1018.6 63.84L1019.4 63.15L1020.2 62.55L1020.5 62.99L1020.88 54.6L1021.12 54.6L1021.5 62.99L1021.8 61.72L1022.6 64.21L1023.4 62.5L1024 63.05L1024.38 59L1024.62 59L1025 63.05L1025.8 63.36L1026.6 63.68L1027.4 62.56L1028.2 63.64L1029 62.93L1029.8 62.69L1030.6 63.01L1031.4 62.5L1031.5 63.18L1031.88 55L1032.12 55L1032.5 63.18L1033 63.83L1033.8 63.11L1034.6 63.99L1035.4 63.53L1036.2 62.56L1037 61.98L1037.8 62.81L1038.6 63.47L1039.4 63.31L1040.2 62.75L1041 64.02L1041.8 62.15L1042.6 62.5L1043.4 63.45L1044.2 64.88L1045 63.68L1045.8 62.72L1046.6 63.82L1047.4 63.9L1048.2 64.09L1049 63.17L1049.8 62.91L1050.6 63.56L1051.4 63.78L1052.2 64.61L1053 64.97L1053.8 63.01L1054.6 63.17L1055.4 63.5L1056.2 63.38L1057 63.91" fill="none" stroke="#231815" stroke-width="2.3" stroke-linejoin="round" stroke-linecap="round"/>
<path d="M1057.93 63.2L1057.7 64L1060.1 64.8L1058.35 65.6L1058.72 66.4L1059.9 67.2L1058.11 68L1058.41 68.8L1059.04 69.6L1058.71 70.4L1058.11 71.2L1058.88 72L1058.8 72.8L1059.54 73.6L1057.91 74.4L1058.64 75.2L1060.02 76L1060.56 76.8L1058.13 77.6L1059.72 78.4L1058.56 79.2L1058.68 80L1058.7 80.8L1059.05 81.6L1060.1 82.4L1059.92 83.2L1059.47 84L1059.19 84.8L1059.48 85.6L1059.43 86.4L1060.09 87.2L1059.1 88L1059.56 88.8L1059.52 89.6L1059.57 90.4L1059.81 91.2L1059.79 92L1060.61 92.8L1059.62 93.6L1060.8 94.4L1059.5 95.2L1059.4 96L1059.82 96.8L1060.01 97.6L1059.97 98.4L1060.69 99.2L1060.6 100L1060.16 100.8L1059.59 101.6L1059.77 102.4L1059.85 102.9L1067.2 103.28L1067.2 103.52L1059.85 103.9L1060.01 104L1058.97 104.8L1059.4 105.6L1059.49 106.4L1060.69 107.2L1059.83 108L1061.46 108.8L1060.37 109.6L1060.02 110.4L1059.65 111.2L1060.61 112L1059.8 112.8L1059.41 113.6L1060.36 114.4L1059.99 115.2L1060.79 116L1059.95 116.8L1058.09 117.6L1060.54 118.4L1058.77 119.2L1061.05 120L1061.25 120.8L1059.76 121.6L1059.28 122.4L1059.13 123.2L1060.64 124L1059.94 124.8L1059.68 125.6L1059.92 126.4L1061.46 127.2L1060.32 128L1060.59 128.8L1060.62 129.6L1060.78 130.4L1060.81 131.2L1059.67 132L1060 132.8L1059.65 133.6L1059.69 134.4L1060.89 135.2L1059.84 136L1060.12 136.8L1059.74 137.6L1059.81 138.4L1060.7 139.2L1059.92 140L1059.9 140.8L1060.53 141.6L1060.54 142.4L1060.74 143.2L1060.35 144L1059.14 144.8L1060.65 145.6L1060.58 146.4L1060.91 147.2L1059.75 148L1061.86 148.8L1059.53 149.6L1060.75 150.4L1060.34 151.2L1060.01 152L1060.83 152.8L1060.16 153.6L1058.9 154.4L1059.63 155.2L1060.63 156L1061.73 156.8L1059.46 157.6L1060.36 158.4L1061.26 159.2L1060.75 160L1060.16 160.8L1059.54 161.6L1059.33 162.4L1059.96 163.2L1060.2 164L1059.07 164.8L1059.42 165.6L1060.62 166.4L1060.2 167.2L1060 168L1060.22 168.8L1059.98 169.6L1061.03 170.4L1061.45 171.2L1061.71 172L1060.92 172.8L1060.94 173.6L1061.37 174.4L1061.54 175.2L1061.38 176L1061.24 176.8L1060.17 177.6L1059.62 178.4L1061.07 179.2L1060.51 180L1060.54 180.8L1060.07 181.6L1060.59 181.9L1067.2 182.28L1067.2 182.52L1060.59 182.9L1061.4 183.2L1060.87 184L1060.01 184.8L1060.85 185.6L1060.81 186.4L1060.94 187.2L1061.92 188L1060.64 188.8L1059.95 189.6L1060.7 190.4L1060.33 191.2L1061.01 192L1060.83 192.8L1060.91 193.6L1060.41 194.4L1060.97 195.2L1060.47 196L1061.05 196.8L1060.61 197.6L1060.17 198.4L1061.07 199.2L1060.42 200L1061.61 200.8L1061.08 201.6L1061.1 202.4L1060.91 203.2L1060.84 204L1059.6 204.8L1061.56 205.6L1060.48 206.4L1061.44 207.2L1060.61 208L1060.89 208.8L1060.86 209.6L1060.45 210.4L1060.92 211.2L1061.27 212L1060.83 212.8L1060.41 213.6L1060.78 214.4L1061.23 215.2L1061.7 216L1061.56 216.8L1061.3 217.6L1060.67 218.4L1061.65 219.2L1061.22 220L1061.11 220.8L1061.7 221.6L1061.58 222.4L1061.54 223.2L1060.75 224L1061.04 224.8L1060.53 225.6L1061.47 226.4L1061.42 227.2L1061.87 228L1061.55 228.8L1061.29 229.6L1062.49 230.4L1061.03 231.2L1060.91 232L1061.28 232.8L1061.83 233.6L1061.45 234.4L1061.43 235.2L1061.14 236L1062.36 236.8L1061.42 237.6L1061.24 238.4L1061.7 239.2L1061.42 240L1061.7 240.8L1062.43 241.6L1061.66 242.4L1061.86 243.2L1061.75 244L1061.85 244.8L1062.32 245.6L1062.22 246.4L1061.87 247.2L1061.64 248L1062.01 248.8L1062.45 249.6L1062.12 250.4L1062.1 251.2L1061.42 252L1062.62 252.8L1061.61 253.6L1061.73 254.4L1062.13 255.2L1062.33 256L1062.36 256.8L1062.06 257.6L1062.27 258.4L1062.18 259.2L1062.45 259.5L1068.4 259.88L1068.4 260.12L1062.45 260.5L1062.38 260.8L1062.24 261.6L1062.71 262.4L1062.51 263.2L1062.98 264L1062.9 264.8L1063.01 265.6L1063.16 266.4L1062.99 267.2L1062.69 268L1063.3 268.8L1062.47 269.6L1062.84 270.4L1063.21 271.2L1062.82 272L1063.23 272.8L1062.71 273.6L1062.84 274.4L1063.28 275.2L1063.38 276L1063.59 276.8L1063.23 277.5L1068 277.88L1068 278.12L1063.23 278.5L1063.52 279.2L1063.52 280L1062.95 280.8L1063.26 281.6L1064.01 282.4L1063.15 283.2L1063.85 284L1063.56 284.8L1064.11 285.6L1063.6 286.4L1063.96 287.2L1063.38 288L1064.14 288.8L1064.63 289.6L1063.92 290.4L1064.94 291.2L1064.5 292L1064.79 292.3L1064 292.6L1065.3 292.9L1064.77 293.2L1064.96 293.5L1064.83 293.8L1065.02 294.1L1065.8 294.4L1065.4 294.7L1065.97 295L1065.78 295.3L1066.09 295.6L1065.99 295.9L1066.46 296.2L1067.33 296.5L1066.95 296.8L1067.15 297.1L1067.12 297.4L1067.88 297.7L1068.33 298L1067.79 298.3L1068.33 298.6L1069.88 298.9L1069.95 299.2L1070.53 299.5L1071.44 299.8L1072.53 300.1L1073.54 300.4L1074.57 300.7L1076.92 301L1078.41 301.3L1080.76 301.6L1083.21 301.9L1082.75 302.2L1080.05 302.5L1077.69 302.8L1075.93 303.1L1073.37 303.4L1072.88 303.7L1072.39 304L1071.44 304.3L1070.38 304.6L1069.8 304.9L1069.8 305.2L1068.95 305.5L1068.49 305.8L1068.84 306.1L1067.91 306.4L1067.96 306.7L1067.52 307L1067.35 307.3L1066.89 307.6L1066.77 307.9L1067.23 308.2L1066.43 308.5L1066.72 308.8L1066.21 309.1L1066.39 309.4L1066.37 309.7L1065.85 310L1066.57 310.3L1066.14 310.6L1066.48 310.9L1065.84 311.2L1066.31 311.5L1066.67 311.8L1066.06 312L1065.75 312.8L1066 313.6L1065.87 314.4L1065.75 315.2L1065.76 316L1065.63 316.8L1065.89 317.6L1065.67 318.4L1065.56 319.2L1066 320L1065.76 320.8L1066.49 321.6L1065.76 322.4L1065.65 323.2L1065.71 324L1065.95 324.8L1065.7 325.6L1065.57 326.4L1066.31 327.2L1065.61 328L1066.3 328.8L1065.99 329.6L1065.71 330.4L1066.39 331.2L1065.96 332L1065.79 332.8L1066.07 333.6L1066.38 334.4L1066.27 335.2L1066.33 336L1066.57 336.8L1066.25 337.6L1066.33 338.4L1066.27 338.5L1082.2 338.88L1082.2 339.12L1066.27 339.5L1066 340L1066.34 340.8L1066.79 341.6L1066.11 342.4L1066.84 343.2L1066.68 344L1066.5 344.8L1066.78 345.6L1067.22 346.4L1066.81 347.2L1067.18 348L1067.34 348.8L1067.01 349.6L1067.41 350.4L1067.48 351.2L1067.38 352L1067.7 352.8L1067.59 353.6L1067.65 354.4L1067.62 355.2L1068.03 356L1067.97 356.8L1068.04 357.6L1068.03 358.4L1068.08 359.2L1068.28 360L1068.66 360.8L1068.47 361.6L1068.97 362.4L1068.88 363.2L1068.93 364L1068.79 364.8L1069.44 365.6L1068.95 366.4L1069.39 367.2L1069.68 368L1069.46 368.8L1069.49 369.6L1069.7 370.4L1069.96 371.2L1070.13 372L1070.12 372.8L1069.96 373.6L1070.13 374.4L1070.38 375.2L1070.26 376L1070.53 376.8L1071.01 377.6L1070.63 378.4L1071.07 379.2L1070.88 380L1071.08 380.8L1071.24 381.6L1071.15 382.4L1071.47 383.2L1071.78 384L1071.82 384.8L1071.93 385.6L1071.85 386.4L1072.07 387.2L1072.24 388L1072.42 388.8L1072.63 389.6L1072.46 390.4L1072.93 391.2L1072.81 392L1072.95 392.8L1072.96 393.6L1073.23 394.4L1073.35 395.2L1073.37 396L1073.62 396.8L1073.8 397.6L1073.88 398.4L1074.15 399.2L1074.1 400L1074.45 400.8L1074.48 401.6L1074.69 402.4L1074.62 403.2L1074.97 404L1075.11 404.8L1075.37 405.6L1075.32 406.4L1075.72 407.2L1075.66 408L1076.04 408.8L1076.14 409.6L1076.19 410.4L1076.61 411.2L1076.49 412L1076.74 412.8L1076.94 413.6L1077.13 414.4L1077.27 415.2L1077.48 416L1077.62 416.8L1077.83 417.5L1107 417.88L1107 418.12L1077.83 418.5L1078.05 419.2L1078.31 420L1078.34 420.8L1078.6 421.6L1078.64 422.4L1078.92 423.2L1079.05 424L1079.43 424.8L1079.46 425.6L1079.76 426.4L1080.03 427.2L1080.24 428L1080.48 428.8L1080.73 429.6L1080.95 430.4L1081.22 431.2L1081.46 432L1081.74 432.8L1081.97 433.6L1082.38 434.4L1082.77 435.2L1083.06 436L1083.45 436.8L1083.92 437.6L1084.4 438.4L1084.88 439.2L1085.3 440L1085.88 440.8L1086.41 441.6L1087.04 442.4L1087.63 443.2L1088.42 444L1089.15 444.8L1089.98 445.6L1090.85 446.4L1091.82 447.2L1092.93 448L1094.09 448.8L1095.34 449.6L1096.68 450.4L1098.05 451.2L1099.6 452L1101.48 452.8L1103.83 453.6L1106.98 454.4L1111.23 455.2L1117.95 456" fill="none" stroke="#231815" stroke-width="2.3" stroke-linejoin="round" stroke-linecap="round"/>
<text font-size="35.6" textLength="52.57" lengthAdjust="spacingAndGlyphs" transform="translate(602.31 82.85) rotate(0.03)">500</text>
<text font-size="35.6" textLength="51.69" lengthAdjust="spacingAndGlyphs" transform="translate(603.18 147.9) rotate(0.03)">400</text>
<text font-size="35.6" textLength="52.19" lengthAdjust="spacingAndGlyphs" transform="translate(602.69 223.3) rotate(0.03)">300</text>
<text font-size="35.6" textLength="52.58" lengthAdjust="spacingAndGlyphs" transform="translate(602.31 300.7) rotate(0.03)">200</text>
<text font-size="35.6" textLength="51.2" lengthAdjust="spacingAndGlyphs" transform="translate(603.65 385.1) rotate(0.03)">100</text>
<text font-size="35.6" textLength="17.58" lengthAdjust="spacingAndGlyphs" transform="translate(636.91 458.1) rotate(0.03)">0</text>
<text font-size="35.6" textLength="17.81" lengthAdjust="spacingAndGlyphs" transform="translate(663.29 483.65) rotate(0.03)">0</text>
<text font-size="35.6" textLength="50.11" lengthAdjust="spacingAndGlyphs" transform="translate(713.31 483.65) rotate(0.03)">100</text>
<text font-size="35.6" textLength="52.36" lengthAdjust="spacingAndGlyphs" transform="translate(791.72 483.65) rotate(0.03)">200</text>
<text font-size="35.6" textLength="52.51" lengthAdjust="spacingAndGlyphs" transform="translate(861.57 483.65) rotate(0.03)">300</text>
<text font-size="35.6" textLength="52.52" lengthAdjust="spacingAndGlyphs" transform="translate(943.57 483.65) rotate(0.03)">400</text>
<text font-size="35.6" textLength="52.46" lengthAdjust="spacingAndGlyphs" transform="translate(1030.22 483.65) rotate(0.03)">500</text>
<text font-size="35.6" textLength="218.02" lengthAdjust="spacingAndGlyphs" transform="translate(756.25 521.7) rotate(0.03)">Frequency (Hz)</text>
<text font-size="35.6" textLength="217.21" lengthAdjust="spacingAndGlyphs" transform="translate(586.4 388.74) rotate(-89.97)">Frequency (Hz)</text>
</g>
<g id="pc">
<g filter="url(#cmc)"><rect x="1232" y="65.5" width="208" height="384.7" fill="url(#cgx)"/><rect x="1232" y="65.5" width="208" height="384.7" fill="url(#cgy)" style="mix-blend-mode:lighten"/></g>
<rect x="1276.57" y="72.05" width="14.86" height="1.3" fill="#b40426"/>
<rect x="1291.43" y="72.05" width="14.86" height="1.3" fill="#ee8468"/>
<rect x="1306.29" y="72.05" width="14.86" height="1.3" fill="#f6b79b"/>
<rect x="1321.14" y="72.05" width="59.43" height="1.3" fill="#dfe8ff" fill-opacity="0.42"/>
<rect x="1380.57" y="72.05" width="14.86" height="1.3" fill="#d24b40"/>
<rect x="1395.43" y="72.05" width="44.57" height="1.3" fill="#b40426"/>
<rect x="1410.29" y="73.5" width="29.71" height="1" fill="#dfe8ff" fill-opacity="0.42"/>
<rect x="1232" y="82.95" width="14.86" height="1.5" fill="#d24b40"/>
<rect x="1246.86" y="82.95" width="14.86" height="1.5" fill="#ee8468"/>
<rect x="1276.57" y="89.85" width="14.86" height="1.5" fill="#ee8468"/>
<rect x="1291.43" y="89.85" width="14.86" height="1.5" fill="#f6b79b"/>
<rect x="1306.29" y="89.85" width="133.71" height="1.5" fill="#e6ebf7" fill-opacity="0.62"/>
<rect x="1232" y="93.1" width="14.86" height="1.4" fill="#b40426"/>
<rect x="1246.86" y="93.1" width="14.86" height="1.4" fill="#ee8468"/>
<rect x="1261.71" y="93.1" width="14.86" height="1.4" fill="#f6b79b"/>
<rect x="1276.57" y="93.1" width="14.86" height="1.4" fill="#ee8468"/>
<rect x="1291.43" y="93.1" width="14.86" height="1.4" fill="#ead8cf"/>
<rect x="1306.29" y="93.1" width="133.71" height="1.4" fill="#dfe8ff" fill-opacity="0.42"/>
<rect x="1365.71" y="106.95" width="14.86" height="1.3" fill="#b40426"/>
<rect x="1380.57" y="106.95" width="14.86" height="1.3" fill="#d24b40"/>
<rect x="1395.43" y="106.95" width="14.86" height="1.3" fill="#ee8468"/>
<rect x="1410.29" y="106.95" width="29.71" height="1.3" fill="#f6b79b"/>
<rect x="1232" y="108.5" width="44.57" height="1.4" fill="#b40426"/>
<rect x="1276.57" y="108.5" width="14.86" height="1.4" fill="#ee8468"/>
<rect x="1291.43" y="108.5" width="14.86" height="1.4" fill="#f6b79b"/>
<rect x="1306.29" y="108.5" width="133.71" height="1.4" fill="#dfe8ff" fill-opacity="0.42"/>
<rect x="1232" y="107.8" width="14.86" height="2.8" fill="#b40426"/>
<rect x="1336" y="118.55" width="104" height="1.3" fill="#dfe8ff" fill-opacity="0.22"/>
<rect x="1232" y="119.55" width="14.86" height="1.3" fill="#ee8468"/>
<rect x="1232" y="137.45" width="14.86" height="1.3" fill="#ee8468"/>
<rect x="1232" y="145.65" width="14.86" height="1.3" fill="#d24b40"/>
<rect x="1232" y="148.15" width="59.43" height="1.3" fill="#b40426"/>
<rect x="1291.43" y="148.15" width="14.86" height="1.3" fill="#ee8468"/>
<rect x="1306.29" y="148.15" width="14.86" height="1.3" fill="#f6b79b"/>
<rect x="1321.14" y="148.15" width="29.71" height="1.3" fill="#e6ebf7" fill-opacity="0.62"/>
<rect x="1350.86" y="148.15" width="14.86" height="1.3" fill="#ee8468"/>
<rect x="1365.71" y="148.15" width="29.71" height="1.3" fill="#f6b79b"/>
<rect x="1395.43" y="148.15" width="44.57" height="1.3" fill="#e6ebf7" fill-opacity="0.62"/>
<rect x="1232" y="151.15" width="44.57" height="1.5" fill="#b40426"/>
<rect x="1276.57" y="151.15" width="14.86" height="1.5" fill="#ee8468"/>
<rect x="1291.43" y="151.15" width="14.86" height="1.5" fill="#f6b79b"/>
<rect x="1306.29" y="151.15" width="133.71" height="1.5" fill="#dfe8ff" fill-opacity="0.42"/>
<rect x="1232" y="150.5" width="14.86" height="2.8" fill="#b40426"/>
<rect x="1232" y="166.35" width="14.86" height="1.3" fill="#b40426"/>
<rect x="1246.86" y="166.35" width="14.86" height="1.3" fill="#d24b40"/>
<rect x="1261.71" y="166.35" width="14.86" height="1.3" fill="#ee8468"/>
<rect x="1276.57" y="166.35" width="14.86" height="1.3" fill="#f6b79b"/>
<rect x="1291.43" y="166.35" width="14.86" height="1.3" fill="#dfe8ff" fill-opacity="0.42"/>
<rect x="1306.29" y="166.35" width="133.71" height="1.3" fill="#dfe8ff" fill-opacity="0.22"/>
<rect x="1232" y="176.4" width="14.86" height="1.2" fill="#ee8468"/>
<rect x="1321.14" y="176.4" width="118.86" height="1.2" fill="#dfe8ff" fill-opacity="0.22"/>
<rect x="1232" y="193.7" width="29.71" height="1.4" fill="#b40426"/>
<rect x="1261.71" y="193.7" width="14.86" height="1.4" fill="#ee8468"/>
<rect x="1276.57" y="193.7" width="14.86" height="1.4" fill="#f6b79b"/>
<rect x="1291.43" y="193.7" width="148.57" height="1.4" fill="#dfe8ff" fill-opacity="0.22"/>
<rect x="1321.14" y="199.9" width="118.86" height="1.2" fill="#dfe8ff" fill-opacity="0.42"/>
<rect x="1276.57" y="206.75" width="14.86" height="1.3" fill="#b40426"/>
<rect x="1291.43" y="206.75" width="14.86" height="1.3" fill="#d24b40"/>
<rect x="1306.29" y="206.75" width="14.86" height="1.3" fill="#ee8468"/>
<rect x="1321.14" y="206.75" width="14.86" height="1.3" fill="#f6b79b"/>
<rect x="1336" y="206.75" width="14.86" height="1.3" fill="#e6ebf7" fill-opacity="0.62"/>
<rect x="1350.86" y="206.75" width="74.29" height="1.3" fill="#dfe8ff" fill-opacity="0.42"/>
<rect x="1425.14" y="206.75" width="14.86" height="1.3" fill="#e6ebf7" fill-opacity="0.62"/>
<rect x="1232" y="223.65" width="14.86" height="1.3" fill="#b40426"/>
<rect x="1246.86" y="223.65" width="14.86" height="1.3" fill="#ee8468"/>
<rect x="1261.71" y="223.65" width="14.86" height="1.3" fill="#f6b79b"/>
<rect x="1276.57" y="223.65" width="163.43" height="1.3" fill="#dfe8ff" fill-opacity="0.22"/>
<rect x="1232" y="228.65" width="14.86" height="1.3" fill="#b40426"/>
<rect x="1246.86" y="228.65" width="14.86" height="1.3" fill="#f6b79b"/>
<rect x="1261.71" y="228.65" width="14.86" height="1.3" fill="#ee8468"/>
<rect x="1276.57" y="228.65" width="14.86" height="1.3" fill="#f6b79b"/>
<rect x="1291.43" y="228.65" width="44.57" height="1.3" fill="#dfe8ff" fill-opacity="0.42"/>
<rect x="1336" y="228.65" width="14.86" height="1.3" fill="#e6ebf7" fill-opacity="0.62"/>
<rect x="1350.86" y="228.65" width="14.86" height="1.3" fill="#f6b79b"/>
<rect x="1365.71" y="228.65" width="14.86" height="1.3" fill="#ee8468"/>
<rect x="1380.57" y="228.65" width="14.86" height="1.3" fill="#d24b40"/>
<rect x="1395.43" y="228.65" width="29.71" height="1.3" fill="#b40426"/>
<rect x="1425.14" y="228.65" width="14.86" height="1.3" fill="#d24b40"/>
<rect x="1232" y="236.45" width="29.71" height="1.5" fill="#b40426"/>
<rect x="1261.71" y="236.45" width="14.86" height="1.5" fill="#d24b40"/>
<rect x="1276.57" y="236.45" width="14.86" height="1.5" fill="#f6b79b"/>
<rect x="1291.43" y="236.45" width="133.71" height="1.5" fill="#dfe8ff" fill-opacity="0.22"/>
<rect x="1232" y="235.75" width="14.86" height="2.9" fill="#b40426"/>
<rect x="1232" y="241.25" width="29.71" height="1.3" fill="#b40426"/>
<rect x="1261.71" y="241.25" width="14.86" height="1.3" fill="#d24b40"/>
<rect x="1291.43" y="241.25" width="14.86" height="1.3" fill="#ead8cf"/>
<rect x="1306.29" y="241.25" width="133.71" height="1.3" fill="#dfe8ff" fill-opacity="0.42"/>
<rect x="1276.57" y="240.9" width="14.86" height="2" fill="#ee8468"/>
<rect x="1232" y="253.8" width="208" height="1.4" fill="#b40426"/>
<rect x="1232" y="261.7" width="208" height="1.4" fill="#b40426"/>
<rect x="1232" y="270.85" width="44.57" height="1.3" fill="#b40426"/>
<rect x="1276.57" y="270.85" width="14.86" height="1.3" fill="#ee8468"/>
<rect x="1291.43" y="270.85" width="148.57" height="1.3" fill="#dfe8ff" fill-opacity="0.42"/>
<rect x="1232" y="279.75" width="29.71" height="1.3" fill="#b40426"/>
<rect x="1261.71" y="279.75" width="14.86" height="1.3" fill="#ee8468"/>
<rect x="1276.57" y="279.75" width="14.86" height="1.3" fill="#f6b79b"/>
<rect x="1291.43" y="279.75" width="148.57" height="1.3" fill="#dfe8ff" fill-opacity="0.22"/>
<rect x="1232" y="291.75" width="14.86" height="1.3" fill="#b40426"/>
<rect x="1246.86" y="291.75" width="14.86" height="1.3" fill="#f6b79b"/>
<rect x="1261.71" y="291.75" width="14.86" height="1.3" fill="#dfe8ff" fill-opacity="0.42"/>
<rect x="1276.57" y="291.75" width="44.57" height="1.3" fill="#b40426"/>
<rect x="1321.14" y="291.75" width="14.86" height="1.3" fill="#ee8468"/>
<rect x="1336" y="291.75" width="14.86" height="1.3" fill="#f6b79b"/>
<rect x="1350.86" y="291.75" width="74.29" height="1.3" fill="#dfe8ff" fill-opacity="0.42"/>
<rect x="1425.14" y="291.75" width="14.86" height="1.3" fill="#b40426"/>
<rect x="1232" y="299.85" width="59.43" height="1.3" fill="#b40426"/>
<rect x="1291.43" y="299.85" width="14.86" height="1.3" fill="#ee8468"/>
<rect x="1306.29" y="299.85" width="14.86" height="1.3" fill="#f6b79b"/>
<rect x="1321.14" y="299.85" width="118.86" height="1.3" fill="#dfe8ff" fill-opacity="0.42"/>
<rect x="1276.57" y="305.8" width="14.86" height="1.2" fill="#dfe8ff" fill-opacity="0.42"/>
<rect x="1291.43" y="306.75" width="14.86" height="1.3" fill="#ee8468"/>
<rect x="1306.29" y="306.75" width="14.86" height="1.3" fill="#dfe8ff" fill-opacity="0.42"/>
<rect x="1321.14" y="306.75" width="14.86" height="1.3" fill="#d24b40"/>
<rect x="1336" y="306.75" width="14.86" height="1.3" fill="#f6b79b"/>
<rect x="1350.86" y="306.75" width="89.14" height="1.3" fill="#dfe8ff" fill-opacity="0.42"/>
<rect x="1276.57" y="316.85" width="14.86" height="1.3" fill="#d24b40"/>
<rect x="1291.43" y="316.85" width="14.86" height="1.3" fill="#f6b79b"/>
<rect x="1306.29" y="316.85" width="133.71" height="1.3" fill="#dfe8ff" fill-opacity="0.42"/>
<rect x="1306.29" y="319.8" width="133.71" height="1.2" fill="#dfe8ff" fill-opacity="0.22"/>
<rect x="1232" y="339.5" width="208" height="1.4" fill="#b40426"/>
<rect x="1232" y="346.65" width="14.86" height="1.3" fill="#b40426"/>
<rect x="1246.86" y="346.65" width="14.86" height="1.3" fill="#ee8468"/>
<rect x="1261.71" y="346.65" width="14.86" height="1.3" fill="#f6b79b"/>
<rect x="1276.57" y="346.65" width="163.43" height="1.3" fill="#dfe8ff" fill-opacity="0.22"/>
<rect x="1276.57" y="357.75" width="14.86" height="1.3" fill="#b40426"/>
<rect x="1291.43" y="357.75" width="14.86" height="1.3" fill="#ee8468"/>
<rect x="1306.29" y="357.75" width="14.86" height="1.3" fill="#f6b79b"/>
<rect x="1321.14" y="357.75" width="104" height="1.3" fill="#dfe8ff" fill-opacity="0.42"/>
<rect x="1425.14" y="357.75" width="14.86" height="1.3" fill="#e6ebf7" fill-opacity="0.62"/>
<rect x="1232" y="364.65" width="14.86" height="1.3" fill="#ee8468"/>
<rect x="1246.86" y="364.65" width="14.86" height="1.3" fill="#f6b79b"/>
<rect x="1232" y="373.2" width="14.86" height="2.8" fill="#b40426"/>
<rect x="1246.86" y="373.75" width="14.86" height="1.3" fill="#b40426"/>
<rect x="1261.71" y="373.75" width="14.86" height="1.3" fill="#ee8468"/>
<rect x="1276.57" y="373.75" width="14.86" height="1.3" fill="#f6b79b"/>
<rect x="1291.43" y="373.75" width="14.86" height="1.3" fill="#ead8cf"/>
<rect x="1306.29" y="373.75" width="133.71" height="1.3" fill="#dfe8ff" fill-opacity="0.42"/>
<rect x="1232" y="375.75" width="89.14" height="1.3" fill="#b40426"/>
<rect x="1321.14" y="375.75" width="14.86" height="1.3" fill="#d24b40"/>
<rect x="1336" y="375.75" width="14.86" height="1.3" fill="#ee8468"/>
<rect x="1350.86" y="375.75" width="29.71" height="1.3" fill="#f6b79b"/>
<rect x="1380.57" y="375.75" width="44.57" height="1.3" fill="#ead8cf"/>
<rect x="1425.14" y="375.75" width="14.86" height="1.3" fill="#e6ebf7" fill-opacity="0.62"/>
<rect x="1306.29" y="378.8" width="133.71" height="1.2" fill="#dfe8ff" fill-opacity="0.42"/>
<rect x="1232" y="392.75" width="14.86" height="1.3" fill="#ee8468"/>
<rect x="1276.57" y="392.75" width="14.86" height="1.3" fill="#ee8468"/>
<rect x="1291.43" y="392.75" width="14.86" height="1.3" fill="#ead8cf"/>
<rect x="1306.29" y="392.75" width="133.71" height="1.3" fill="#dfe8ff" fill-opacity="0.22"/>
<rect x="1306.29" y="395.8" width="133.71" height="1.2" fill="#dfe8ff" fill-opacity="0.42"/>
<rect x="1232" y="397.65" width="14.86" height="1.3" fill="#d24b40"/>
<rect x="1232" y="402.4" width="14.86" height="2" fill="#f6b79b"/>
<rect x="1276.57" y="432.75" width="14.86" height="1.3" fill="#d24b40"/>
<rect x="1291.43" y="432.75" width="14.86" height="1.3" fill="#f6b79b"/>
<rect x="1306.29" y="432.75" width="133.71" height="1.3" fill="#dfe8ff" fill-opacity="0.42"/>
<rect x="1276.57" y="437.75" width="44.57" height="1.3" fill="#b40426"/>
<rect x="1321.14" y="437.75" width="14.86" height="1.3" fill="#d24b40"/>
<rect x="1336" y="437.75" width="14.86" height="1.3" fill="#ee8468"/>
<rect x="1350.86" y="437.75" width="14.86" height="1.3" fill="#f6b79b"/>
<rect x="1365.71" y="437.75" width="59.43" height="1.3" fill="#ead8cf"/>
<rect x="1425.14" y="437.75" width="14.86" height="1.3" fill="#b40426"/>
<rect x="1232" y="440.9" width="14.86" height="1.2" fill="#ee8468"/>
<rect x="1232" y="444" width="14.86" height="1.2" fill="#ee8468"/>
<rect x="1291.43" y="410.8" width="14.86" height="5.4" fill="#f29c7c"/>
<rect x="1306.29" y="411.2" width="14.86" height="4.7" fill="#f5b092"/>
<rect x="1321.14" y="411.6" width="14.86" height="4" fill="#f4c0a8"/>
<rect x="1336" y="411.9" width="14.86" height="3.4" fill="#efcebf"/>
<rect x="1232" y="408.5" width="14.86" height="9.5" fill="#b40426"/>
<rect x="1246.86" y="409.4" width="14.86" height="7.9" fill="#b40426"/>
<rect x="1261.71" y="409.6" width="14.86" height="7.4" fill="#b40426"/>
<rect x="1276.57" y="410.3" width="14.86" height="6.1" fill="#b40426"/>
<rect x="1291.43" y="412" width="14.86" height="3.2" fill="#bd1e2c"/>
<rect x="1306.29" y="412.3" width="14.86" height="2.6" fill="#cf4338"/>
<rect x="1321.14" y="412.5" width="14.86" height="2.2" fill="#dd5d49"/>
<rect x="1336" y="412.7" width="14.86" height="1.8" fill="#ef8a6c"/>
<rect x="1350.86" y="412.8" width="14.86" height="1.6" fill="#f5a98b"/>
<rect x="1365.71" y="412.9" width="14.86" height="1.4" fill="#f6bfa6"/>
<rect x="1380.57" y="413" width="14.86" height="1.2" fill="#efcfc0"/>
<rect x="1232" y="446.4" width="14.86" height="3.8" fill="#b40426"/>
<rect x="1246.86" y="447.4" width="29.71" height="2.8" fill="#b40426"/>
<rect x="1276.57" y="447.8" width="14.86" height="2.4" fill="#d24b40"/>
<rect x="1291.43" y="448" width="14.86" height="2.2" fill="#ee8468"/>
<rect x="1306.29" y="448.2" width="29.71" height="2" fill="#f6b79b"/>
<rect x="1336" y="448.4" width="29.71" height="1.8" fill="#ead8cf"/>
<rect x="1232" y="65.5" width="207.6" height="384.7" fill="none" stroke="#2b2b2b" stroke-width="2.5"/>
<path d="M1237.8 65.5v5M1237.8 450.2v-5M1284 65.5v5M1284 450.2v-5M1330.3 65.5v5M1330.3 450.2v-5M1376.4 65.5v5M1376.4 450.2v-5M1422.6 65.5v5M1422.6 450.2v-5M1232 142.4h4.5M1439.6 142.4h-4.5M1232 219.4h4.5M1439.6 219.4h-4.5M1232 296h4.5M1439.6 296h-4.5M1232 373h4.5M1439.6 373h-4.5" stroke="#2b2b2b" stroke-width="2.3" fill="none"/>
<rect x="1228.6" y="38" width="169.6" height="10.3" fill="url(#cbar)" stroke="#555" stroke-width="0.9"/>
<path d="M1227.9 38.7H1398.8" stroke="#2b2b2b" stroke-width="2.6"/>
<path d="M1230 39v2.8M1258.4 39v2.8M1286.8 39v2.8M1315.4 39v2.8M1343.8 39v2.8M1372.3 39v2.8" stroke="#2b2b2b" stroke-width="1.7" fill="none"/>
<text font-size="35.34" textLength="34.9" lengthAdjust="spacingAndGlyphs" transform="translate(1227.18 33.75) rotate(0.03)">30</text>
<text font-size="36.05" textLength="11.5" lengthAdjust="spacingAndGlyphs" transform="translate(1328.53 33.75) rotate(0.03)">1</text>
<text font-size="34.88" textLength="82.32" lengthAdjust="spacingAndGlyphs" transform="translate(1346.39 33.41) rotate(0.03)">fT/Hz</text>
<text font-size="20.54" textLength="24.89" lengthAdjust="spacingAndGlyphs" transform="translate(1429.64 21.85) rotate(0.03)">1/2</text>
<text font-size="35.6" textLength="52.68" lengthAdjust="spacingAndGlyphs" transform="translate(1170.01 77.6) rotate(0.03)">500</text>
<text font-size="35.6" textLength="51.69" lengthAdjust="spacingAndGlyphs" transform="translate(1170.98 151.1) rotate(0.03)">400</text>
<text font-size="35.6" textLength="52.3" lengthAdjust="spacingAndGlyphs" transform="translate(1170.38 229.1) rotate(0.03)">300</text>
<text font-size="35.6" textLength="52.58" lengthAdjust="spacingAndGlyphs" transform="translate(1170.11 307.1) rotate(0.03)">200</text>
<text font-size="35.6" textLength="50.76" lengthAdjust="spacingAndGlyphs" transform="translate(1171.88 382.1) rotate(0.03)">100</text>
<text font-size="35.6" textLength="18.52" lengthAdjust="spacingAndGlyphs" transform="translate(1202.24 458.1) rotate(0.03)">0</text>
<text font-size="35.6" textLength="17.81" lengthAdjust="spacingAndGlyphs" transform="translate(1229.29 483.7) rotate(0.03)">0</text>
<text font-size="35.6" textLength="35.44" lengthAdjust="spacingAndGlyphs" transform="translate(1263.69 483.7) rotate(0.03)">25</text>
<text font-size="35.6" textLength="35.3" lengthAdjust="spacingAndGlyphs" transform="translate(1312.2 483.7) rotate(0.03)">50</text>
<text font-size="35.6" textLength="35.19" lengthAdjust="spacingAndGlyphs" transform="translate(1359.93 483.7) rotate(0.03)">75</text>
<text font-size="35.6" textLength="50.76" lengthAdjust="spacingAndGlyphs" transform="translate(1400.28 483.7) rotate(0.03)">100</text>
<text font-size="35.6" textLength="270.22" lengthAdjust="spacingAndGlyphs" transform="translate(1329.83 521.1) rotate(0.03)">Correlators number</text>
<text font-size="35.6" textLength="216.8" lengthAdjust="spacingAndGlyphs" transform="translate(1144 356.74) rotate(-89.97)">Frequency (Hz)</text>
</g>
<g id="pd">
<rect x="1461.6" y="66.4" width="207.6" height="384.3" fill="#fff" stroke="#2b2b2b" stroke-width="2.5"/>
<path d="M1469.2 66.4v5M1469.2 450.7v-5M1514.4 66.4v5M1514.4 450.7v-5M1559.7 66.4v5M1559.7 450.7v-5M1604.9 66.4v5M1604.9 450.7v-5M1650.2 66.4v5M1650.2 450.7v-5M1461.6 94.5h5M1669.2 94.5h-5M1461.6 191.2h5M1669.2 191.2h-5M1461.6 316.2h5M1669.2 316.2h-5M1461.6 440.5h5M1669.2 440.5h-5" stroke="#2b2b2b" stroke-width="2.3" fill="none"/>
<clipPath id="cpd"><rect x="1461.6" y="66.4" width="207.6" height="384.3"/></clipPath>
<path d="M1469.7 60L1469.76 65L1469.83 70L1469.9 75L1469.98 80L1470.06 85L1470.14 90L1470.22 95L1470.31 100L1470.4 105L1470.49 110L1470.58 115L1470.68 120L1470.78 125L1470.88 130L1470.98 135L1471.09 140L1471.2 145L1471.31 150L1471.43 155L1471.55 160L1471.67 165L1471.8 170L1471.94 175L1472.08 180L1472.23 185L1472.38 190L1472.55 195L1472.73 200L1472.93 205L1473.14 210L1473.34 215L1473.53 220L1473.73 225L1473.93 230L1474.15 235L1474.4 240L1474.69 245L1475.02 250L1475.4 255L1475.81 260L1476.28 265L1476.8 270L1477.38 275L1478.02 280L1478.75 285L1479.63 290L1480.6 295L1481.6 300L1482.6 305L1483.65 310L1484.77 315L1486.01 320L1487.41 325L1489 330L1490 332.6L1491.5 336.37L1493 339.96L1494.5 343.34L1496 346.52L1497.5 349.59L1499 352.52L1500.5 355.27L1502 357.78L1503.5 360.04L1505 362.13L1506.5 364.07L1508 365.9L1509.5 367.64L1511 369.32L1512.5 370.92L1514 372.44L1515.5 373.9L1517 375.32L1518.5 376.71L1520 378.05L1521.5 379.35L1523 380.62L1524.5 381.85L1526 383.07L1527.5 384.27L1529 385.44L1530 386.2L1533 388.35L1536 390.33L1539 392.18L1542 393.93L1545 395.59L1548 397.25L1551 398.94L1554 400.58L1557 402.11L1560 403.6L1563 405.22L1566 406.92L1569 408.55L1572 410L1575 411.26L1578 412.45L1581 413.56L1584 414.61L1587 415.61L1590 416.58L1593 417.53L1596 418.44L1599 419.33L1602 420.18L1605 421.01L1608 421.8L1611 422.57L1614 423.32L1617 424.05L1620 424.76L1623 425.45L1626 426.12L1629 426.76L1632 427.37L1635 427.95L1638 428.51L1641 429.05L1644 429.57L1647 430.07L1650 430.55L1653 431.01L1656 431.45L1659 431.86L1662 432.25L1665 432.64L1668 433.01L1671 433.38" fill="none" stroke="#231815" stroke-width="2.1" stroke-linejoin="round" clip-path="url(#cpd)"/>
<circle cx="1470.8" cy="131" r="2.3" fill="#e8745b"/>
<circle cx="1474.2" cy="255.5" r="2.3" fill="#e8745b"/>
<circle cx="1479.8" cy="281.8" r="2.3" fill="#e8745b"/>
<circle cx="1487.1" cy="318" r="2.3" fill="#e8745b"/>
<circle cx="1496" cy="341.7" r="2.3" fill="#e8745b"/>
<circle cx="1507.2" cy="360.3" r="2.3" fill="#e8745b"/>
<circle cx="1520.1" cy="373.1" r="2.3" fill="#e8745b"/>
<circle cx="1534.5" cy="388.8" r="2.3" fill="#e8745b"/>
<circle cx="1550.7" cy="402.8" r="2.3" fill="#e8745b"/>
<circle cx="1568.9" cy="411.2" r="2.3" fill="#e8745b"/>
<circle cx="1589" cy="419.9" r="2.3" fill="#e8745b"/>
<circle cx="1610.6" cy="424.4" r="2.3" fill="#e8745b"/>
<circle cx="1634.2" cy="430.7" r="2.3" fill="#e8745b"/>
<circle cx="1659.4" cy="435.9" r="2.3" fill="#e8745b"/>
<circle cx="1501.4" cy="101.8" r="2.8" fill="#e8745b"/>
<path d="M1485 137.6H1513" stroke="#231815" stroke-width="1.3"/>
<text font-size="35.6" textLength="144.98" lengthAdjust="spacingAndGlyphs" transform="translate(1517.95 111.5) rotate(0.03)">Experiment</text>
<text font-size="35.6" textLength="35.4" lengthAdjust="spacingAndGlyphs" transform="translate(1518.13 152.1) rotate(0.03)">Fit</text>
<text font-size="39.47" textLength="46.62" lengthAdjust="spacingAndGlyphs" transform="translate(1518.94 289.36) rotate(0.03)" style="stroke:#fff;stroke-width:.7px" font-family='"DejaVu Sans","DejaVu Sans",serif'>∝</text>
<text font-size="37.8" textLength="28.09" lengthAdjust="spacingAndGlyphs" transform="translate(1564.88 289.52) rotate(0.03)" font-style="italic">N</text>
<text font-size="29.5" textLength="23.56" lengthAdjust="spacingAndGlyphs" transform="translate(1600.33 273.1) rotate(0.03)" font-style="italic">-a</text>
<text font-size="37.95" textLength="21.21" lengthAdjust="spacingAndGlyphs" transform="translate(1511.01 326.84) rotate(0.03)" font-style="italic">a</text>
<text font-size="38.16" textLength="24.42" lengthAdjust="spacingAndGlyphs" transform="translate(1536.06 331.23) rotate(0.03)" font-style="italic">≈</text>
<text font-size="39.38" textLength="68.01" lengthAdjust="spacingAndGlyphs" transform="translate(1567.28 331.17) rotate(0.03)" font-style="italic">0.25</text>
<text font-size="35.6" textLength="31.17" lengthAdjust="spacingAndGlyphs" transform="translate(1676.51 104.1) rotate(0.03)">16</text>
<text font-size="35.6" textLength="32.09" lengthAdjust="spacingAndGlyphs" transform="translate(1676.43 200.1) rotate(0.03)">12</text>
<text font-size="35.6" textLength="15.45" lengthAdjust="spacingAndGlyphs" transform="translate(1682.47 325.1) rotate(0.03)">8</text>
<text font-size="35.6" textLength="16.67" lengthAdjust="spacingAndGlyphs" transform="translate(1678.6 450.1) rotate(0.03)">4</text>
<text font-size="35.6" textLength="17.58" lengthAdjust="spacingAndGlyphs" transform="translate(1456.51 483.7) rotate(0.03)">0</text>
<text font-size="35.6" textLength="34.79" lengthAdjust="spacingAndGlyphs" transform="translate(1492.32 483.7) rotate(0.03)">25</text>
<text font-size="35.6" textLength="34.85" lengthAdjust="spacingAndGlyphs" transform="translate(1539.62 483.7) rotate(0.03)">50</text>
<text font-size="35.6" textLength="35.19" lengthAdjust="spacingAndGlyphs" transform="translate(1582.93 483.7) rotate(0.03)">75</text>
<text font-size="35.6" textLength="50.76" lengthAdjust="spacingAndGlyphs" transform="translate(1623.28 483.7) rotate(0.03)">100</text>
<text font-size="35.6" textLength="147.44" lengthAdjust="spacingAndGlyphs" transform="translate(1742.8 400.06) rotate(-89.97)">Sensitivity</text>
<text font-size="35.6" textLength="94.49" lengthAdjust="spacingAndGlyphs" transform="translate(1742.8 243.08) rotate(-89.97)">(fT/Hz</text>
<text font-size="21.4" textLength="24.66" lengthAdjust="spacingAndGlyphs" transform="translate(1731 146.25) rotate(-89.97)">1/2</text>
<text font-size="35.6" textLength="13.35" lengthAdjust="spacingAndGlyphs" transform="translate(1742.8 124.94) rotate(-89.97)">)</text>
</g>
<g id="pe">
<path d="M190.6 982.3L305.2 563.4L420 982.3Z" fill="url(#ge)"/>
<path d="M190.6 982.3L305.2 563.4L420 982.3" fill="none" stroke="#000" stroke-width="2.3" stroke-linejoin="round"/>
<g fill="#e8745b"><circle cx="305" cy="569" r="2.45"/><circle cx="301" cy="582.6" r="2.45"/><circle cx="297" cy="597" r="2.45"/><circle cx="293" cy="611.4" r="2.45"/><circle cx="289" cy="625.6" r="2.45"/><circle cx="285" cy="639.4" r="2.45"/><circle cx="281" cy="654" r="2.45"/><circle cx="277" cy="668.6" r="2.45"/><circle cx="273" cy="682.4" r="2.45"/><circle cx="269" cy="697" r="2.45"/><circle cx="265" cy="711.4" r="2.45"/><circle cx="261" cy="724" r="2.45"/><circle cx="257.4" cy="739.4" r="2.45"/><circle cx="253.4" cy="753.6" r="2.45"/><circle cx="249.4" cy="765.2" r="2.45"/><circle cx="245.4" cy="776.4" r="2.45"/><circle cx="241.4" cy="790.4" r="2.45"/><circle cx="237.4" cy="801.2" r="2.45"/><circle cx="233.4" cy="821" r="2.45"/><circle cx="229.4" cy="834.6" r="2.45"/><circle cx="225.4" cy="845.2" r="2.45"/><circle cx="221.4" cy="852" r="2.45"/><circle cx="217.4" cy="854.6" r="2.45"/><circle cx="213.4" cy="881" r="2.45"/><circle cx="205.4" cy="898.6" r="2.45"/><circle cx="201.4" cy="909.6" r="2.45"/><circle cx="209.4" cy="926.4" r="2.45"/><circle cx="157.8" cy="926.4" r="2.45"/><circle cx="185.6" cy="939.6" r="2.45"/><circle cx="114" cy="962" r="2.45"/><circle cx="150" cy="962" r="2.45"/><circle cx="162" cy="962" r="2.45"/><circle cx="177.6" cy="962" r="2.45"/><circle cx="189.6" cy="962" r="2.45"/><circle cx="193.4" cy="962" r="2.45"/><circle cx="309" cy="574.4" r="2.45"/><circle cx="313" cy="584.6" r="2.45"/><circle cx="317" cy="595.4" r="2.45"/><circle cx="321" cy="606" r="2.45"/><circle cx="325" cy="616.6" r="2.45"/><circle cx="329" cy="628" r="2.45"/><circle cx="333" cy="639" r="2.45"/><circle cx="337" cy="650.6" r="2.45"/><circle cx="341" cy="661" r="2.45"/><circle cx="345" cy="673.2" r="2.45"/><circle cx="349" cy="684" r="2.45"/><circle cx="353" cy="695" r="2.45"/><circle cx="357" cy="705" r="2.45"/><circle cx="361" cy="717.4" r="2.45"/><circle cx="365" cy="727.4" r="2.45"/><circle cx="368.6" cy="738" r="2.45"/><circle cx="372.4" cy="749" r="2.45"/><circle cx="376.4" cy="760" r="2.45"/><circle cx="380.4" cy="770.6" r="2.45"/><circle cx="384.4" cy="783" r="2.45"/><circle cx="388.4" cy="790" r="2.45"/><circle cx="392.2" cy="798.4" r="2.45"/><circle cx="396.2" cy="811" r="2.45"/><circle cx="400.4" cy="818.6" r="2.45"/><circle cx="404.2" cy="825.6" r="2.45"/><circle cx="408.2" cy="839" r="2.45"/><circle cx="416.2" cy="847" r="2.45"/><circle cx="412.2" cy="852.4" r="2.45"/><circle cx="420" cy="864.4" r="2.45"/><circle cx="424" cy="878.4" r="2.45"/><circle cx="432" cy="884" r="2.45"/><circle cx="428" cy="894.4" r="2.45"/><circle cx="436" cy="894.4" r="2.45"/><circle cx="452" cy="894.4" r="2.45"/><circle cx="443.8" cy="909.6" r="2.45"/><circle cx="459.8" cy="909.6" r="2.45"/><circle cx="440" cy="917" r="2.45"/><circle cx="448" cy="917" r="2.45"/><circle cx="455.8" cy="917" r="2.45"/><circle cx="463.8" cy="926.4" r="2.45"/><circle cx="495.6" cy="926.4" r="2.45"/><circle cx="479.6" cy="939.6" r="2.45"/><circle cx="487.6" cy="939.6" r="2.45"/><circle cx="467.6" cy="962" r="2.45"/><circle cx="475.6" cy="962" r="2.45"/><circle cx="483.6" cy="962" r="2.45"/><circle cx="499" cy="962" r="2.45"/><circle cx="503.6" cy="962" r="2.45"/><circle cx="507.6" cy="962" r="2.45"/></g>
<rect x="94.6" y="549.4" width="432.8" height="432.9" fill="none" stroke="#2c2c2c" stroke-width="2.45"/>
<path d="M100 549.4v5.2M100 982.3v-5.2M203 549.4v5.2M203 982.3v-5.2M305.5 549.4v5.2M305.5 982.3v-5.2M408.4 549.4v5.2M408.4 982.3v-5.2M511 549.4v5.2M511 982.3v-5.2M94.6 586.2h5.4M527.4 586.2h-5.4M94.6 661.6h5.4M527.4 661.6h-5.4M94.6 736.5h5.4M527.4 736.5h-5.4M94.6 811.6h5.4M527.4 811.6h-5.4M94.6 887h5.4M527.4 887h-5.4M94.6 962h5.4M527.4 962h-5.4" stroke="#2c2c2c" stroke-width="2.6" fill="none"/>
<circle cx="116" cy="575.6" r="2.8" fill="#e8745b"/>
<path d="M102 611.2H130.2" stroke="#000" stroke-width="2.3"/>
<text font-size="35.6" textLength="160.49" lengthAdjust="spacingAndGlyphs" transform="translate(132.46 587.6) rotate(0.03)">Experiment</text>
<text font-size="35.6" textLength="98.25" lengthAdjust="spacingAndGlyphs" transform="translate(130.64 624) rotate(0.03)">Theory</text>
<text font-size="35.6" textLength="33.87" lengthAdjust="spacingAndGlyphs" transform="translate(37.77 601.85) rotate(0.03)">10</text>
<text font-size="21.8" textLength="9.93" lengthAdjust="spacingAndGlyphs" transform="translate(70.9 590.35) rotate(0.03)">5</text>
<text font-size="35.6" textLength="33.87" lengthAdjust="spacingAndGlyphs" transform="translate(37.77 676.1) rotate(0.03)">10</text>
<text font-size="21.8" textLength="9.36" lengthAdjust="spacingAndGlyphs" transform="translate(71.28 664.6) rotate(0.03)">4</text>
<text font-size="35.6" textLength="33.87" lengthAdjust="spacingAndGlyphs" transform="translate(37.77 751.1) rotate(0.03)">10</text>
<text font-size="21.8" textLength="9.56" lengthAdjust="spacingAndGlyphs" transform="translate(71.13 739.6) rotate(0.03)">3</text>
<text font-size="35.6" textLength="33.87" lengthAdjust="spacingAndGlyphs" transform="translate(37.77 827.5) rotate(0.03)">10</text>
<text font-size="21.8" textLength="10.6" lengthAdjust="spacingAndGlyphs" transform="translate(70.72 816) rotate(0.03)">2</text>
<text font-size="35.6" textLength="33.29" lengthAdjust="spacingAndGlyphs" transform="translate(47.72 899.1) rotate(0.03)">10</text>
<text font-size="35.6" textLength="12.92" lengthAdjust="spacingAndGlyphs" transform="translate(66.38 971.5) rotate(0.03)">1</text>
<text font-size="35.6" textLength="46.1" lengthAdjust="spacingAndGlyphs" transform="translate(76.57 1025.1) rotate(0.03)">-20</text>
<text font-size="35.6" textLength="46.1" lengthAdjust="spacingAndGlyphs" transform="translate(177.57 1025.1) rotate(0.03)">-10</text>
<text font-size="35.6" textLength="18.29" lengthAdjust="spacingAndGlyphs" transform="translate(298.26 1025.1) rotate(0.03)">0</text>
<text font-size="35.6" textLength="31.46" lengthAdjust="spacingAndGlyphs" transform="translate(396.48 1025.1) rotate(0.03)">10</text>
<text font-size="35.6" textLength="35.4" lengthAdjust="spacingAndGlyphs" transform="translate(494.69 1025.1) rotate(0.03)">20</text>
<text font-size="35.6" textLength="284.55" lengthAdjust="spacingAndGlyphs" transform="translate(163.53 1065.1) rotate(0.03)">Signal-to-noise ratio</text>
<text font-size="35.6" textLength="97.25" lengthAdjust="spacingAndGlyphs" transform="translate(23.8 828.26) rotate(-89.97)">Counts</text>
<text font-size="35.6" textLength="104.83" lengthAdjust="spacingAndGlyphs" transform="translate(386.51 608.7) rotate(0.03)">Suzhou</text>
<text font-size="35.6" textLength="104.83" lengthAdjust="spacingAndGlyphs" transform="translate(383.91 676.7) rotate(0.03)">Suzhou</text>
<path d="M431.4 614.3V642.8L426.2 631.8M440.5 643.1V614.6L445.7 625.6" fill="none" stroke="#000" stroke-width="2.5" stroke-linejoin="miter" stroke-miterlimit="2"/>
</g>
<g id="pf">
<path d="M751.6 982.3L860 562.3L968 982.3Z" fill="url(#gf)"/>
<path d="M751.6 982.3L860 562.3L968 982.3" fill="none" stroke="#000" stroke-width="2.3" stroke-linejoin="round"/>
<g fill="#e8745b"><circle cx="858.4" cy="570" r="2.45"/><circle cx="862.4" cy="570" r="2.45"/><circle cx="854" cy="588" r="2.45"/><circle cx="850" cy="604.4" r="2.45"/><circle cx="846" cy="620" r="2.45"/><circle cx="842" cy="636.6" r="2.45"/><circle cx="838" cy="652.2" r="2.45"/><circle cx="834" cy="668.2" r="2.45"/><circle cx="830" cy="684" r="2.45"/><circle cx="826" cy="698.6" r="2.45"/><circle cx="822" cy="712" r="2.45"/><circle cx="818" cy="729" r="2.45"/><circle cx="814.4" cy="741.4" r="2.45"/><circle cx="810.4" cy="757" r="2.45"/><circle cx="806.4" cy="773" r="2.45"/><circle cx="802.4" cy="786" r="2.45"/><circle cx="798.4" cy="804" r="2.45"/><circle cx="794.4" cy="816.4" r="2.45"/><circle cx="790.4" cy="821.6" r="2.45"/><circle cx="786.4" cy="841" r="2.45"/><circle cx="782.4" cy="850.6" r="2.45"/><circle cx="774.4" cy="860.6" r="2.45"/><circle cx="778.4" cy="866" r="2.45"/><circle cx="766.4" cy="875.4" r="2.45"/><circle cx="770.4" cy="878" r="2.45"/><circle cx="758.6" cy="909.4" r="2.45"/><circle cx="762.6" cy="926.4" r="2.45"/><circle cx="742.6" cy="926.4" r="2.45"/><circle cx="735" cy="926.4" r="2.45"/><circle cx="727" cy="926.4" r="2.45"/><circle cx="754.6" cy="939.4" r="2.45"/><circle cx="703" cy="939.4" r="2.45"/><circle cx="675.4" cy="939.4" r="2.45"/><circle cx="663.4" cy="939.4" r="2.45"/><circle cx="667.4" cy="962" r="2.45"/><circle cx="679.4" cy="962" r="2.45"/><circle cx="687.4" cy="962" r="2.45"/><circle cx="715" cy="962" r="2.45"/><circle cx="719" cy="962" r="2.45"/><circle cx="723" cy="962" r="2.45"/><circle cx="731" cy="962" r="2.45"/><circle cx="739" cy="962" r="2.45"/><circle cx="747" cy="962" r="2.45"/><circle cx="866" cy="579" r="2.45"/><circle cx="870" cy="588.6" r="2.45"/><circle cx="874" cy="591.6" r="2.45"/><circle cx="878" cy="610" r="2.45"/><circle cx="882" cy="620.4" r="2.45"/><circle cx="886" cy="630.4" r="2.45"/><circle cx="890" cy="640.4" r="2.45"/><circle cx="894" cy="650.6" r="2.45"/><circle cx="898" cy="661" r="2.45"/><circle cx="902" cy="670.6" r="2.45"/><circle cx="906" cy="681" r="2.45"/><circle cx="910" cy="690.4" r="2.45"/><circle cx="914" cy="698.6" r="2.45"/><circle cx="918" cy="709" r="2.45"/><circle cx="922" cy="717" r="2.45"/><circle cx="926" cy="729" r="2.45"/><circle cx="929.6" cy="736.6" r="2.45"/><circle cx="933.6" cy="745" r="2.45"/><circle cx="937.6" cy="753.4" r="2.45"/><circle cx="941.6" cy="762" r="2.45"/><circle cx="945.6" cy="773" r="2.45"/><circle cx="949.6" cy="781" r="2.45"/><circle cx="953.6" cy="789.6" r="2.45"/><circle cx="957.4" cy="795" r="2.45"/><circle cx="961.4" cy="806" r="2.45"/><circle cx="965.2" cy="815" r="2.45"/><circle cx="969.4" cy="816" r="2.45"/><circle cx="977.2" cy="833.6" r="2.45"/><circle cx="973.2" cy="845.6" r="2.45"/><circle cx="981.2" cy="847.4" r="2.45"/><circle cx="985.2" cy="851.6" r="2.45"/><circle cx="989.2" cy="856.4" r="2.45"/><circle cx="997.2" cy="867.4" r="2.45"/><circle cx="993" cy="869.4" r="2.45"/><circle cx="1005" cy="883.6" r="2.45"/><circle cx="1001" cy="887" r="2.45"/><circle cx="1009" cy="887" r="2.45"/><circle cx="1024.8" cy="898.4" r="2.45"/><circle cx="1012.8" cy="903.4" r="2.45"/><circle cx="1040.8" cy="903.4" r="2.45"/><circle cx="1016.8" cy="916.6" r="2.45"/><circle cx="1032.6" cy="916.6" r="2.45"/><circle cx="1036.6" cy="926.4" r="2.45"/><circle cx="1044.6" cy="926.4" r="2.45"/><circle cx="1056.6" cy="926.4" r="2.45"/><circle cx="1052.6" cy="939.4" r="2.45"/><circle cx="1020.6" cy="962" r="2.45"/><circle cx="1028.6" cy="962" r="2.45"/><circle cx="1048.6" cy="962" r="2.45"/></g>
<rect x="643.7" y="549.4" width="433.3" height="432.9" fill="none" stroke="#2c2c2c" stroke-width="2.45"/>
<path d="M659.4 549.4v5.2M659.4 982.3v-5.2M759.6 549.4v5.2M759.6 982.3v-5.2M860 549.4v5.2M860 982.3v-5.2M960.2 549.4v5.2M960.2 982.3v-5.2M1060.4 549.4v5.2M1060.4 982.3v-5.2M643.7 584h5.4M1077 584h-5.4M643.7 660h5.4M1077 660h-5.4M643.7 735.4h5.4M1077 735.4h-5.4M643.7 811h5.4M1077 811h-5.4M643.7 886.4h5.4M1077 886.4h-5.4M643.7 962h5.4M1077 962h-5.4" stroke="#2c2c2c" stroke-width="2.6" fill="none"/>
<circle cx="667.4" cy="577.4" r="2.8" fill="#e8745b"/>
<path d="M653.5 611.8H681.6" stroke="#000" stroke-width="2.3"/>
<text font-size="35.6" textLength="160.9" lengthAdjust="spacingAndGlyphs" transform="translate(679.66 590.7) rotate(0.03)">Experiment</text>
<text font-size="35.6" textLength="97.44" lengthAdjust="spacingAndGlyphs" transform="translate(682.04 626.1) rotate(0.03)">Theory</text>
<text font-size="35.6" textLength="33.41" lengthAdjust="spacingAndGlyphs" transform="translate(587.01 595.05) rotate(0.03)">10</text>
<text font-size="21.8" textLength="9.43" lengthAdjust="spacingAndGlyphs" transform="translate(620.55 583.55) rotate(0.03)">5</text>
<text font-size="35.6" textLength="33.41" lengthAdjust="spacingAndGlyphs" transform="translate(587.01 676.1) rotate(0.03)">10</text>
<text font-size="21.8" textLength="8.93" lengthAdjust="spacingAndGlyphs" transform="translate(620.9 664.6) rotate(0.03)">4</text>
<text font-size="35.6" textLength="33.41" lengthAdjust="spacingAndGlyphs" transform="translate(587.01 750.1) rotate(0.03)">10</text>
<text font-size="21.8" textLength="9.08" lengthAdjust="spacingAndGlyphs" transform="translate(620.78 738.6) rotate(0.03)">3</text>
<text font-size="35.6" textLength="33.41" lengthAdjust="spacingAndGlyphs" transform="translate(587.01 827.5) rotate(0.03)">10</text>
<text font-size="21.8" textLength="10.1" lengthAdjust="spacingAndGlyphs" transform="translate(620.36 816) rotate(0.03)">2</text>
<text font-size="35.6" textLength="33.75" lengthAdjust="spacingAndGlyphs" transform="translate(593.68 896.5) rotate(0.03)">10</text>
<text font-size="35.6" textLength="12.92" lengthAdjust="spacingAndGlyphs" transform="translate(615.38 971.5) rotate(0.03)">1</text>
<text font-size="35.6" textLength="46.1" lengthAdjust="spacingAndGlyphs" transform="translate(636.97 1025.1) rotate(0.03)">-20</text>
<text font-size="35.6" textLength="46.1" lengthAdjust="spacingAndGlyphs" transform="translate(734.97 1025.1) rotate(0.03)">-10</text>
<text font-size="35.6" textLength="18.29" lengthAdjust="spacingAndGlyphs" transform="translate(849.86 1025.1) rotate(0.03)">0</text>
<text font-size="35.6" textLength="31.92" lengthAdjust="spacingAndGlyphs" transform="translate(944.44 1025.1) rotate(0.03)">10</text>
<text font-size="35.6" textLength="36.49" lengthAdjust="spacingAndGlyphs" transform="translate(1041.65 1025.1) rotate(0.03)">20</text>
<text font-size="35.6" textLength="284.14" lengthAdjust="spacingAndGlyphs" transform="translate(723.93 1065.1) rotate(0.03)">Signal-to-noise ratio</text>
<text font-size="35.6" textLength="97.66" lengthAdjust="spacingAndGlyphs" transform="translate(578.7 827.26) rotate(-89.97)">Counts</text>
<text font-size="35.6" textLength="96.63" lengthAdjust="spacingAndGlyphs" transform="translate(941.25 608.7) rotate(0.03)">Harbin</text>
<text font-size="35.6" textLength="96.63" lengthAdjust="spacingAndGlyphs" transform="translate(941.25 676.7) rotate(0.03)">Harbin</text>
<path d="M982.6 616.1V644.2L977.4 633.2M991.4 644.5V616.4L996.6 627.4" fill="none" stroke="#000" stroke-width="2.5" stroke-linejoin="miter" stroke-miterlimit="2"/>
</g>
<g id="pg">
<path d="M1316.6 982.3L1455.4 567.3L1595 982.3Z" fill="url(#gg)"/>
<path d="M1316.6 982.3L1455.4 567.3L1595 982.3" fill="none" stroke="#000" stroke-width="2.3" stroke-linejoin="round"/>
<g fill="#e8745b"><circle cx="1454" cy="569.4" r="2.45"/><circle cx="1458" cy="572" r="2.45"/><circle cx="1450" cy="581.4" r="2.45"/><circle cx="1446" cy="593.4" r="2.45"/><circle cx="1442" cy="605.4" r="2.45"/><circle cx="1438" cy="617" r="2.45"/><circle cx="1434" cy="629.4" r="2.45"/><circle cx="1430" cy="642.4" r="2.45"/><circle cx="1426" cy="654.6" r="2.45"/><circle cx="1422" cy="667" r="2.45"/><circle cx="1418" cy="679.6" r="2.45"/><circle cx="1414" cy="690.6" r="2.45"/><circle cx="1410" cy="704" r="2.45"/><circle cx="1406" cy="717" r="2.45"/><circle cx="1402" cy="727.4" r="2.45"/><circle cx="1398" cy="739.4" r="2.45"/><circle cx="1394.2" cy="752.4" r="2.45"/><circle cx="1390.2" cy="763.4" r="2.45"/><circle cx="1386.2" cy="776" r="2.45"/><circle cx="1382.2" cy="784" r="2.45"/><circle cx="1378.2" cy="797" r="2.45"/><circle cx="1374.2" cy="809.6" r="2.45"/><circle cx="1370.2" cy="825.4" r="2.45"/><circle cx="1366.2" cy="828.4" r="2.45"/><circle cx="1362.4" cy="844" r="2.45"/><circle cx="1358.4" cy="850.6" r="2.45"/><circle cx="1354.4" cy="858" r="2.45"/><circle cx="1350.4" cy="873.4" r="2.45"/><circle cx="1346.4" cy="886.6" r="2.45"/><circle cx="1338.6" cy="898.4" r="2.45"/><circle cx="1342.6" cy="903.6" r="2.45"/><circle cx="1334.6" cy="916.6" r="2.45"/><circle cx="1330.6" cy="926.4" r="2.45"/><circle cx="1319" cy="939.4" r="2.45"/><circle cx="1307" cy="939.4" r="2.45"/><circle cx="1251.6" cy="939.4" r="2.45"/><circle cx="1275" cy="962" r="2.45"/><circle cx="1279.6" cy="962" r="2.45"/><circle cx="1283.6" cy="962" r="2.45"/><circle cx="1295.4" cy="962" r="2.45"/><circle cx="1303" cy="962" r="2.45"/><circle cx="1323" cy="962" r="2.45"/><circle cx="1327.4" cy="962" r="2.45"/><circle cx="1462" cy="583.4" r="2.45"/><circle cx="1466" cy="595.4" r="2.45"/><circle cx="1470" cy="607" r="2.45"/><circle cx="1474" cy="619" r="2.45"/><circle cx="1478" cy="632.6" r="2.45"/><circle cx="1482" cy="645.4" r="2.45"/><circle cx="1486" cy="657" r="2.45"/><circle cx="1490" cy="669.6" r="2.45"/><circle cx="1494" cy="681" r="2.45"/><circle cx="1498" cy="694.4" r="2.45"/><circle cx="1502" cy="707" r="2.45"/><circle cx="1506" cy="719" r="2.45"/><circle cx="1509.6" cy="731" r="2.45"/><circle cx="1513.6" cy="743" r="2.45"/><circle cx="1517.6" cy="754.6" r="2.45"/><circle cx="1521.6" cy="767.4" r="2.45"/><circle cx="1525.6" cy="778.6" r="2.45"/><circle cx="1529.6" cy="794.6" r="2.45"/><circle cx="1533.6" cy="800.6" r="2.45"/><circle cx="1537.6" cy="810" r="2.45"/><circle cx="1541.6" cy="825.4" r="2.45"/><circle cx="1545.6" cy="831.4" r="2.45"/><circle cx="1549.4" cy="852.6" r="2.45"/><circle cx="1553.4" cy="855.6" r="2.45"/><circle cx="1557.4" cy="856.6" r="2.45"/><circle cx="1561.4" cy="886.6" r="2.45"/><circle cx="1565.2" cy="898.4" r="2.45"/><circle cx="1569.4" cy="898.4" r="2.45"/><circle cx="1573.4" cy="903.4" r="2.45"/><circle cx="1581.2" cy="903.4" r="2.45"/><circle cx="1577" cy="939.4" r="2.45"/><circle cx="1585" cy="939.4" r="2.45"/><circle cx="1593" cy="939.4" r="2.45"/><circle cx="1597" cy="939.4" r="2.45"/><circle cx="1601" cy="939.4" r="2.45"/><circle cx="1589" cy="962" r="2.45"/><circle cx="1609" cy="962" r="2.45"/><circle cx="1613" cy="962" r="2.45"/><circle cx="1617" cy="962" r="2.45"/><circle cx="1621" cy="962" r="2.45"/><circle cx="1629" cy="962" r="2.45"/><circle cx="1641" cy="962" r="2.45"/><circle cx="1645" cy="962" r="2.45"/></g>
<rect x="1231.7" y="549.4" width="433.1" height="432.9" fill="none" stroke="#2c2c2c" stroke-width="2.45"/>
<path d="M1246.4 549.4v5.2M1246.4 982.3v-5.2M1351 549.4v5.2M1351 982.3v-5.2M1455.5 549.4v5.2M1455.5 982.3v-5.2M1560.4 549.4v5.2M1560.4 982.3v-5.2M1231.7 584h5.4M1664.8 584h-5.4M1231.7 660h5.4M1664.8 660h-5.4M1231.7 735.4h5.4M1664.8 735.4h-5.4M1231.7 811h5.4M1664.8 811h-5.4M1231.7 886.4h5.4M1664.8 886.4h-5.4M1231.7 962h5.4M1664.8 962h-5.4" stroke="#2c2c2c" stroke-width="2.6" fill="none"/>
<circle cx="1259.4" cy="583.4" r="2.8" fill="#e8745b"/>
<path d="M1245.3 614.4H1273.5" stroke="#000" stroke-width="2.3"/>
<text font-size="35.6" textLength="161.1" lengthAdjust="spacingAndGlyphs" transform="translate(1275.86 592.7) rotate(0.03)">Experiment</text>
<text font-size="35.6" textLength="99.26" lengthAdjust="spacingAndGlyphs" transform="translate(1276.23 626.1) rotate(0.03)">Theory</text>
<text font-size="35.6" textLength="33.98" lengthAdjust="spacingAndGlyphs" transform="translate(1176.96 594.85) rotate(0.03)">10</text>
<text font-size="21.8" textLength="9.68" lengthAdjust="spacingAndGlyphs" transform="translate(1210.92 583.35) rotate(0.03)">5</text>
<text font-size="35.6" textLength="33.98" lengthAdjust="spacingAndGlyphs" transform="translate(1176.96 673.1) rotate(0.03)">10</text>
<text font-size="21.8" textLength="9.14" lengthAdjust="spacingAndGlyphs" transform="translate(1211.29 661.6) rotate(0.03)">4</text>
<text font-size="35.6" textLength="33.98" lengthAdjust="spacingAndGlyphs" transform="translate(1176.96 748.5) rotate(0.03)">10</text>
<text font-size="21.8" textLength="9.32" lengthAdjust="spacingAndGlyphs" transform="translate(1211.16 737) rotate(0.03)">3</text>
<text font-size="35.6" textLength="33.98" lengthAdjust="spacingAndGlyphs" transform="translate(1176.96 825.5) rotate(0.03)">10</text>
<text font-size="21.8" textLength="10.35" lengthAdjust="spacingAndGlyphs" transform="translate(1210.74 814) rotate(0.03)">2</text>
<text font-size="35.6" textLength="34.21" lengthAdjust="spacingAndGlyphs" transform="translate(1183.84 899.1) rotate(0.03)">10</text>
<text font-size="35.6" textLength="12.92" lengthAdjust="spacingAndGlyphs" transform="translate(1204.38 971.5) rotate(0.03)">1</text>
<text font-size="35.6" textLength="45.46" lengthAdjust="spacingAndGlyphs" transform="translate(1215.98 1025.1) rotate(0.03)">-20</text>
<text font-size="35.6" textLength="46.1" lengthAdjust="spacingAndGlyphs" transform="translate(1326.97 1025.1) rotate(0.03)">-10</text>
<text font-size="35.6" textLength="18.76" lengthAdjust="spacingAndGlyphs" transform="translate(1446.82 1025.1) rotate(0.03)">0</text>
<text font-size="35.6" textLength="31.46" lengthAdjust="spacingAndGlyphs" transform="translate(1548.48 1025.1) rotate(0.03)">10</text>
<text font-size="35.6" textLength="36.06" lengthAdjust="spacingAndGlyphs" transform="translate(1646.67 1025.1) rotate(0.03)">20</text>
<text font-size="35.6" textLength="283.74" lengthAdjust="spacingAndGlyphs" transform="translate(1315.93 1065.1) rotate(0.03)">Signal-to-noise ratio</text>
<text font-size="35.6" textLength="97.66" lengthAdjust="spacingAndGlyphs" transform="translate(1167.5 817.26) rotate(-89.97)">Counts</text>
<text font-size="35.6" textLength="104.42" lengthAdjust="spacingAndGlyphs" transform="translate(1538.92 606.7) rotate(0.03)">Suzhou</text>
<text font-size="35.6" textLength="96.43" lengthAdjust="spacingAndGlyphs" transform="translate(1547.25 676.1) rotate(0.03)">Harbin</text>
<path d="M1584 616V644.1L1578.8 633.1M1593.4 644.4V616.3L1598.6 627.3" fill="none" stroke="#000" stroke-width="2.5" stroke-linejoin="miter" stroke-miterlimit="2"/>
</g>
</svg></body></html>
